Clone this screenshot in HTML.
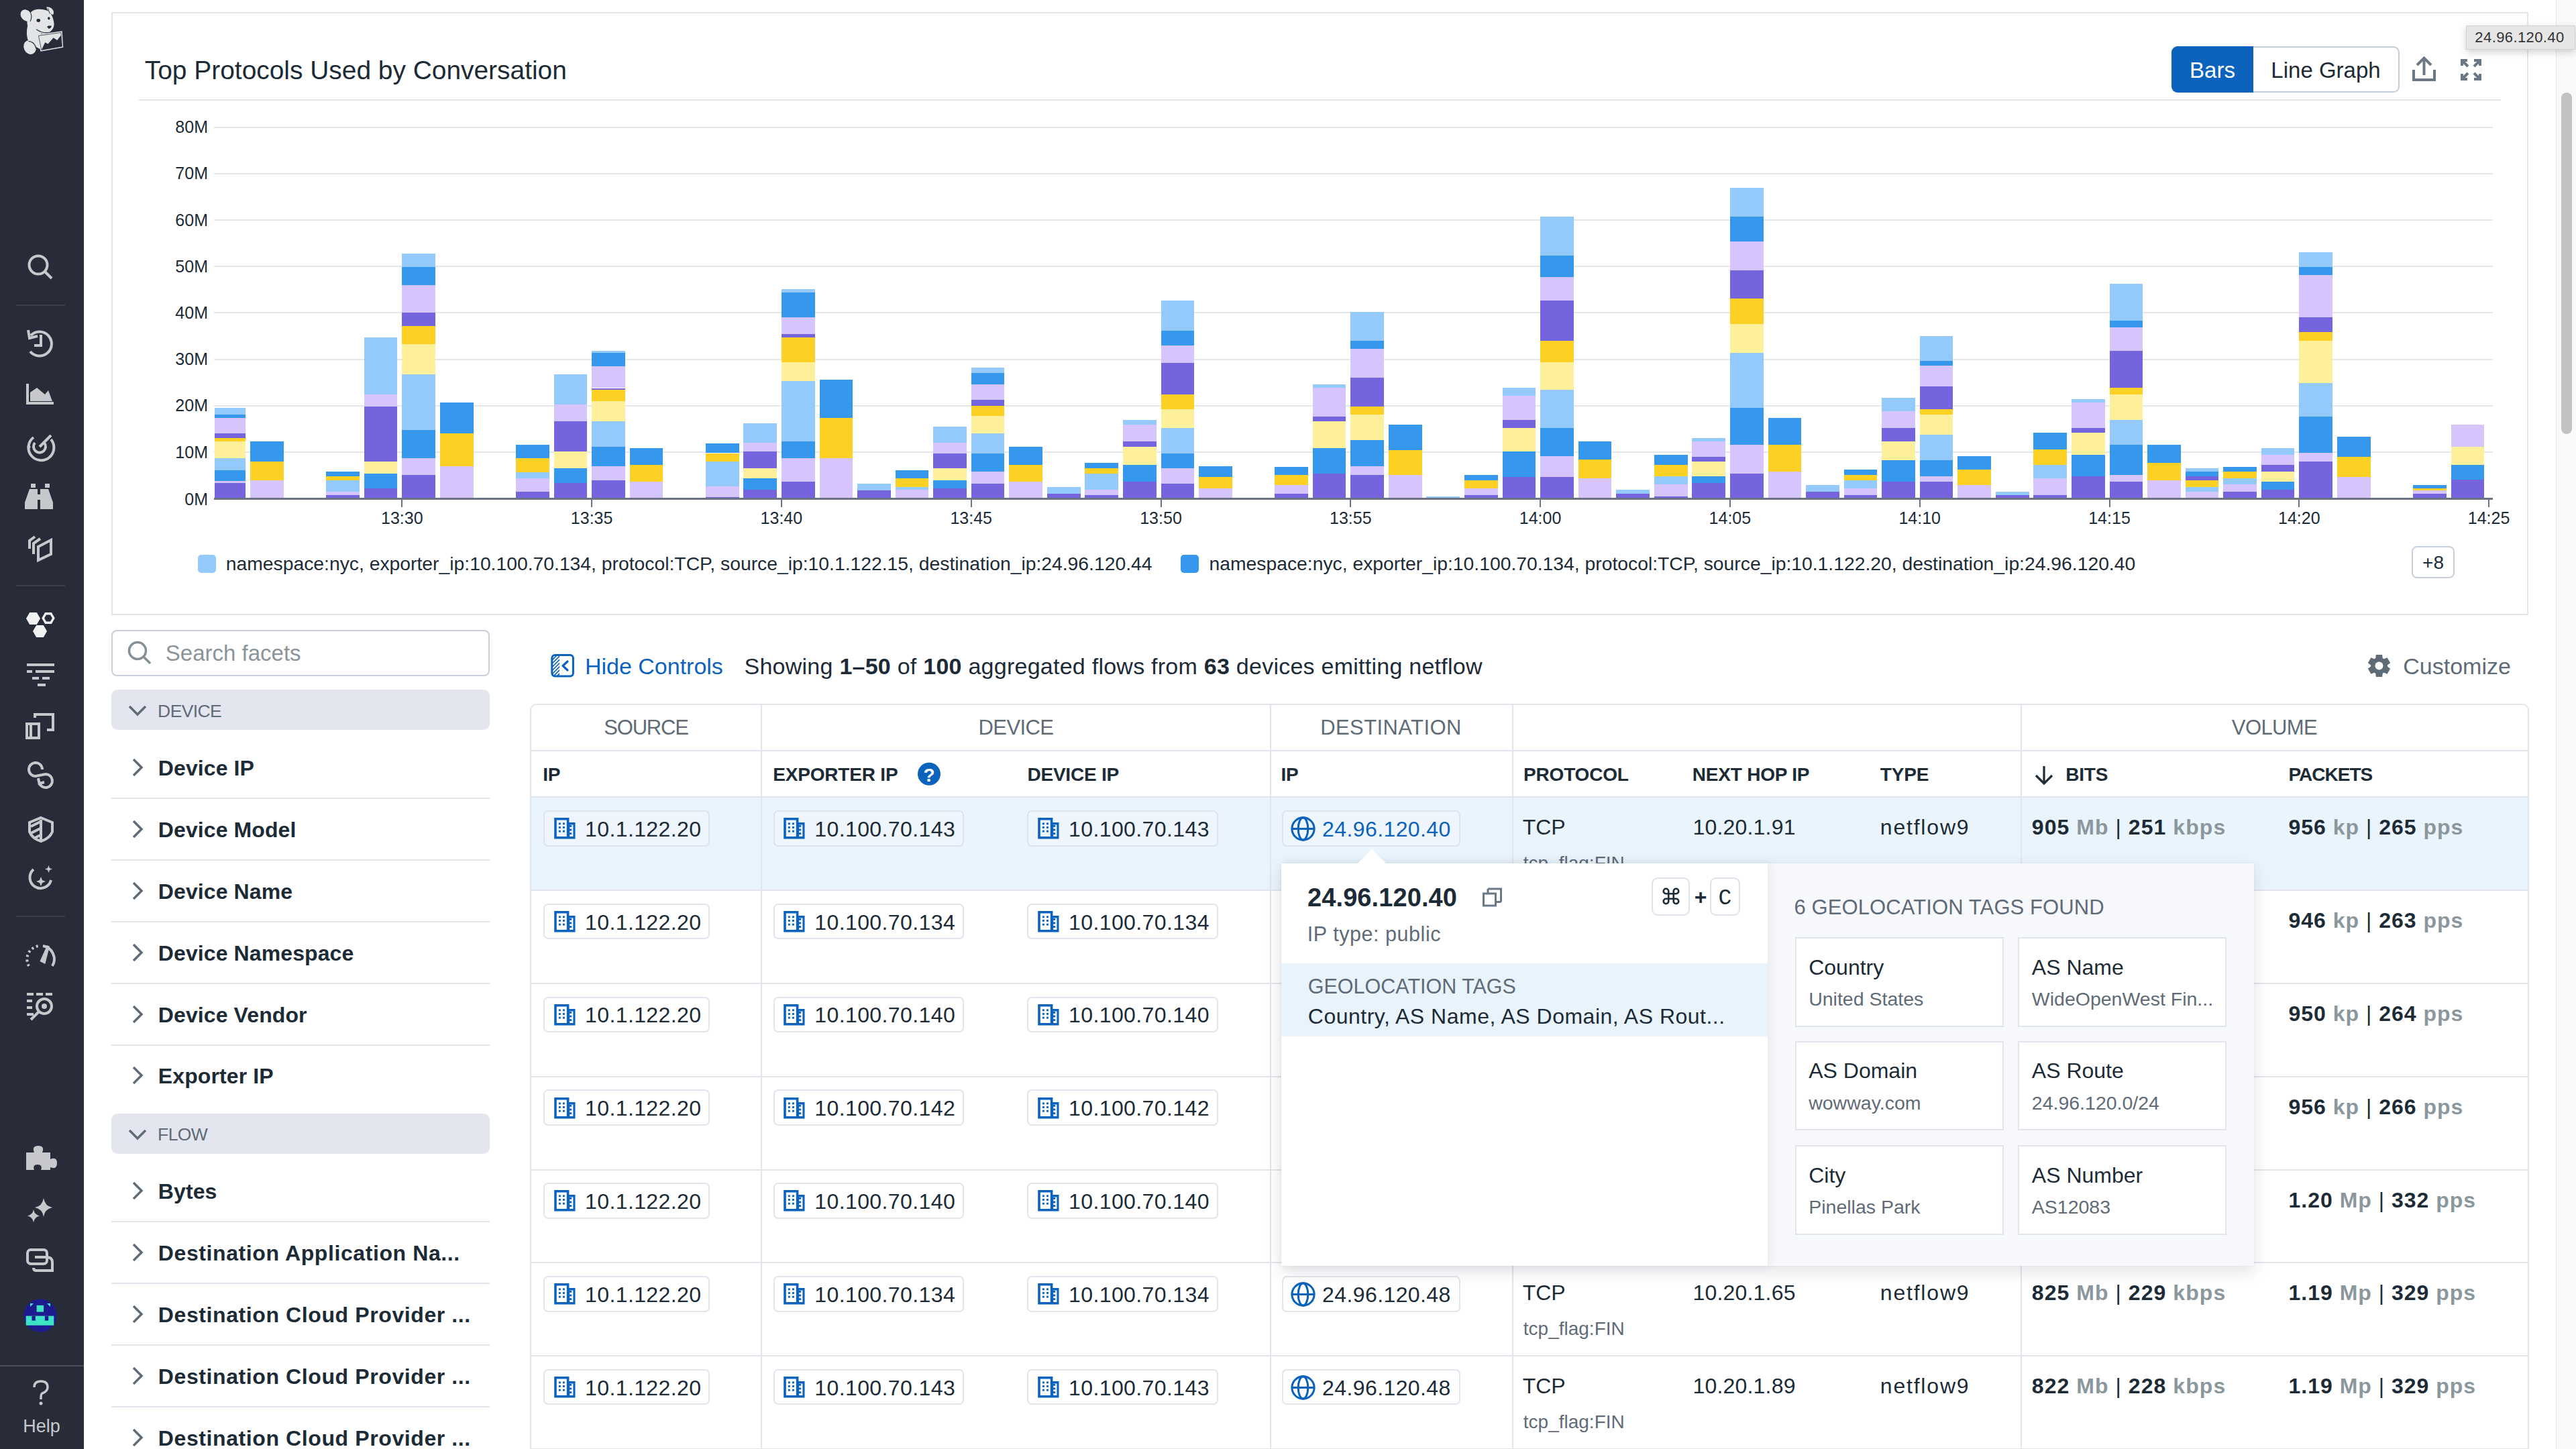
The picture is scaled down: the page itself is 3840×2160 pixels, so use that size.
<!DOCTYPE html><html><head><meta charset="utf-8"><style>
html,body{margin:0;padding:0;}
body{width:3840px;height:2160px;overflow:hidden;position:relative;background:#fff;font-family:"Liberation Sans",sans-serif;}
.t{position:absolute;white-space:nowrap;line-height:1;}
.r{position:absolute;box-sizing:border-box;}
svg{position:absolute;overflow:visible;}
</style></head><body>
<div class="r" style="left:0.0px;top:0.0px;width:125.0px;height:2160.0px;background:#272c38"></div>
<svg style="left:20px;top:0px" width="90" height="90" viewBox="0 0 1449 1449">
<g fill="#e3e4e6">
<path d="M330 560 C320 380 420 240 560 225 C660 210 760 230 830 260 C900 300 960 420 975 560 C985 680 900 790 760 805 C600 820 340 760 330 560 Z"/>
<ellipse cx="305" cy="370" rx="122" ry="152" transform="rotate(-40 305 370)"/>
<path d="M790 175 C850 150 930 190 960 260 C975 320 960 360 930 350 C880 320 820 250 790 175 Z"/>
<path d="M340 620 C300 800 320 980 420 1060 L640 1180 L660 800 Z"/>
<ellipse cx="395" cy="1135" rx="145" ry="172" transform="rotate(-25 395 1135)"/>
<polygon points="575,830 1170,745 1195,1140 650,1235"/>
</g>
<g fill="none" stroke="#272c38" stroke-width="18">
<path d="M385 250 C435 330 445 430 405 510"/>
<path d="M830 195 L872 330" stroke-width="14"/>
<path d="M550 705 C640 770 740 800 850 780"/>
<path d="M360 990 C450 990 530 1060 545 1170"/>
<polygon points="603,858 1143,780 1166,1113 673,1200" stroke-width="12"/>
</g>
<g fill="#272c38">
<ellipse cx="600" cy="490" rx="46" ry="40"/>
<ellipse cx="850" cy="440" rx="28" ry="33"/>
<path d="M805 640 Q860 605 918 625 Q895 690 850 692 Z"/>
<polygon points="673,1200 760,1020 830,1055 960,905 1050,965 1140,850 1166,1113"/>
</g>
</svg>
<div class="r" style="left:24.0px;top:454.0px;width:73.0px;height:2.0px;background:#3b404c"></div>
<div class="r" style="left:24.0px;top:872.0px;width:73.0px;height:2.0px;background:#3b404c"></div>
<div class="r" style="left:24.0px;top:1365.0px;width:73.0px;height:2.0px;background:#3b404c"></div>
<div class="r" style="left:0.0px;top:2035.0px;width:125.0px;height:2.0px;background:#4a4f5a"></div>
<svg style="left:0;top:0" width="125" height="2160" viewBox="0 0 125 2160" fill="none" stroke="#c6c8cc" stroke-width="4" stroke-linecap="butt">
<circle cx="57" cy="395" r="13.5"/><line x1="66.5" y1="404.5" x2="77" y2="415"/>
<path d="M46 500 A18 18 0 1 1 45 524"/><path d="M42 492 L44 504 L56 501" /><path d="M61 499 V515 H51"/>
<path d="M41 572 V601 H80" /><path d="M45 598 V585 L55 578 L67 588 L72 582 L78 598 Z" fill="#c6c8cc" stroke="none"/>
<path d="M50 652 A19 19 0 1 0 76 655"/><path d="M52 660 A9 9 0 1 0 66 660"/><line x1="59" y1="666" x2="76" y2="649"/><circle cx="43" cy="666" r="2.5" fill="#c6c8cc" stroke="none"/>
<path d="M46 721 h7 v6 h-7z M67 721 h7 v6 h-7z" fill="#c6c8cc" stroke="none"/>
<path d="M44 729 h12 v8 h4 v-8 h12 l7 20 v10 h-19 v-14 h-4 v14 h-19 v-10z" fill="#c6c8cc" stroke="none"/>
<path d="M44 818 V806 L52 800"/><path d="M50 826 V810 L60 803"/><path d="M57 835 V815 L76 805 V826 Z"/>
<path d="M60.0 922.0 L54.8 931.1 L44.2 931.1 L39.0 922.0 L44.2 912.9 L54.8 912.9Z M70.0 941.0 L64.8 950.1 L54.2 950.1 L49.0 941.0 L54.2 931.9 L64.8 931.9Z" fill="#f2f2f3" stroke="none"/>
<path d="M79.8 921.5 L75.9 928.3 L68.1 928.3 L64.2 921.5 L68.1 914.7 L75.9 914.7Z" stroke="#f2f2f3" stroke-width="3.4"/>
<path d="M40 991 H81 M40 1001 H48 M53 1001 H81 M48 1011 H58 M63 1011 H74 M56 1021 H68" />
<path d="M56 1065 H79 V1088 H70 M50 1075 V1075 M40 1079 H58 V1100 H40 Z M46 1079 V1100" />
<path d="M52 1070 V1065 H56"/>
<path d="M63 1147 A10 10 0 1 0 53 1157 L68 1154 A10 10 0 1 1 58.6 1167.4"/><path d="M57 1160 L58.6 1168 L66 1166"/>
<path d="M61 1219 L78 1226 V1240 Q74 1250 61 1254 Q48 1250 44 1240 V1226 Z"/><path d="M61 1222 V1252 M46 1232 L60 1225 M46 1242 L60 1235 M50 1250 L60 1245"/>
<path d="M50 1296 A16 16 0 1 0 76 1312"/><path d="M59 1312 l2 -5 l2 5 l5 2 l-5 2 l-2 5 l-2 -5 l-5 -2z M71 1294 l1.5 -4 l1.5 4 l4 1.5 l-4 1.5 l-1.5 4 l-1.5 -4 l-4 -1.5z" fill="#c6c8cc" stroke="none"/>
<path d="M43 1440 A20 20 0 0 1 60 1410" stroke-dasharray="3 4"/><path d="M64 1410 A20 20 0 0 1 78 1440"/><path d="M62 1432 L72 1410 L66 1434 Z" fill="#c6c8cc"/>
<path d="M40 1482 h10 M54 1482 h10 M68 1482 h10 M40 1492 h8 M40 1502 h8 M40 1512 h10" />
<circle cx="66" cy="1500" r="11"/><line x1="58" y1="1508" x2="46" y2="1520"/><circle cx="66" cy="1500" r="4" fill="#c6c8cc" stroke="none"/>
<path d="M39 1718 h12 q-4 -10 6 -10 q10 0 6 10 h12 v10 q10 -4 10 6 q0 10 -10 6 v4 h-14 q3 -8 -5 -8 q-8 0 -5 8 h-12 z" fill="#c6c8cc" stroke="none"/>
<path d="M65 1786 q2 12 13 14 q-11 2 -13 14 q-2 -12 -13 -14 q11 -2 13 -14z M50 1803 q1.5 8 9 9.5 q-7.5 1.5 -9 9.5 q-1.5 -8 -9 -9.5 q7.5 -1.5 9 -9.5z" fill="#c6c8cc" stroke="none"/>
<rect x="41" y="1863" width="29" height="21" rx="5"/><path d="M52 1874 h18 q8 0 8 8 v12 h-24 q-4 0 -4 -4"/>
<path d="M51 2068 q0 -9 10 -9 q10 0 10 9 q0 6 -8 9 q-2 1 -2 6 v3" stroke-width="3.5"/><circle cx="61" cy="2092" r="2.5" fill="#c6c8cc" stroke="none"/>
</svg>
<svg style="left:35px;top:1936px" width="50" height="50" viewBox="0 0 50 50">
<circle cx="25" cy="25" r="24.6" fill="#1e1b8e"/>
<g fill="#3ee3c6"><rect x="19.6" y="9.8" width="10.5" height="9.8"/><rect x="3.7" y="25.6" width="41.6" height="14.1"/>
<path d="M10 7 h5 l-5 5z M40 7 h-5 l5 5z"/></g>
<g fill="#1e1b8e"><rect x="12.5" y="25.6" width="5.3" height="7"/><rect x="31.9" y="25.6" width="5.3" height="7"/></g>
</svg>
<div class="t" style="left:-938.0px;width:2000px;text-align:center;top:2113.1px;font-size:27px;color:#c6c8cc;font-weight:400;">Help</div>
<div class="r" style="left:166.0px;top:18.0px;width:3603.0px;height:899.0px;border:2px solid #e2e5ec;background:#fff"></div>
<div class="t" style="left:215.8px;top:85.6px;font-size:38.9px;color:#1c2b36;font-weight:400;">Top Protocols Used by Conversation</div>
<div class="r" style="left:207.0px;top:148.0px;width:3521.0px;height:2.0px;background:#e2e5ec"></div>
<div class="r" style="left:3237px;top:69px;width:340px;height:69px;border:2px solid #c5ccda;border-radius:9px;background:#fff"></div>
<div class="r" style="left:3237.0px;top:69.0px;width:122.0px;height:69.0px;background:#0b63be;border-radius:9px 0 0 9px"></div>
<div class="t" style="left:2298.0px;width:2000px;text-align:center;top:87.9px;font-size:33px;color:#fff;font-weight:400;">Bars</div>
<div class="t" style="left:2467.0px;width:2000px;text-align:center;top:87.9px;font-size:33px;color:#1c2b36;font-weight:400;">Line Graph</div>
<svg style="left:3590px;top:80px" width="120" height="50" viewBox="3590 80 120 50" fill="none" stroke="#6a7784" stroke-width="4">
<path d="M3598 104 V119 H3629 V104"/><path d="M3613.5 112 V88"/><path d="M3603 97 L3613.5 86.5 L3624 97"/>
<path d="M3670 98 V90 H3678 M3670 90 L3679 99"/><path d="M3688 90 H3697 V98 M3697 90 L3688 99"/>
<path d="M3670 110 V118 H3678 M3670 118 L3679 109"/><path d="M3688 118 H3697 V110 M3697 118 L3688 109"/>
</svg>
<div class="r" style="left:319.0px;top:188.5px;width:3397.0px;height:2.0px;background:#e4e6eb"></div>
<div class="t" style="left:-1690.0px;width:2000px;text-align:right;top:177.1px;font-size:25px;color:#1c2b36;font-weight:400;">80M</div>
<div class="r" style="left:319.0px;top:257.7px;width:3397.0px;height:2.0px;background:#e4e6eb"></div>
<div class="t" style="left:-1690.0px;width:2000px;text-align:right;top:246.3px;font-size:25px;color:#1c2b36;font-weight:400;">70M</div>
<div class="r" style="left:319.0px;top:326.9px;width:3397.0px;height:2.0px;background:#e4e6eb"></div>
<div class="t" style="left:-1690.0px;width:2000px;text-align:right;top:315.5px;font-size:25px;color:#1c2b36;font-weight:400;">60M</div>
<div class="r" style="left:319.0px;top:396.1px;width:3397.0px;height:2.0px;background:#e4e6eb"></div>
<div class="t" style="left:-1690.0px;width:2000px;text-align:right;top:384.7px;font-size:25px;color:#1c2b36;font-weight:400;">50M</div>
<div class="r" style="left:319.0px;top:465.3px;width:3397.0px;height:2.0px;background:#e4e6eb"></div>
<div class="t" style="left:-1690.0px;width:2000px;text-align:right;top:453.9px;font-size:25px;color:#1c2b36;font-weight:400;">40M</div>
<div class="r" style="left:319.0px;top:534.5px;width:3397.0px;height:2.0px;background:#e4e6eb"></div>
<div class="t" style="left:-1690.0px;width:2000px;text-align:right;top:523.1px;font-size:25px;color:#1c2b36;font-weight:400;">30M</div>
<div class="r" style="left:319.0px;top:603.7px;width:3397.0px;height:2.0px;background:#e4e6eb"></div>
<div class="t" style="left:-1690.0px;width:2000px;text-align:right;top:592.3px;font-size:25px;color:#1c2b36;font-weight:400;">20M</div>
<div class="r" style="left:319.0px;top:672.9px;width:3397.0px;height:2.0px;background:#e4e6eb"></div>
<div class="t" style="left:-1690.0px;width:2000px;text-align:right;top:661.5px;font-size:25px;color:#1c2b36;font-weight:400;">10M</div>
<div class="t" style="left:-1690.0px;width:2000px;text-align:right;top:731.5px;font-size:25px;color:#1c2b36;font-weight:400;">0M</div>
<svg style="left:0;top:0" width="3840" height="800" viewBox="0 0 3840 800" shape-rendering="crispEdges"><rect x="319.5" y="720.1" width="46.7" height="21.9" fill="#7464dd"/><rect x="319.5" y="717.4" width="46.7" height="2.7" fill="#d6c5fc"/><rect x="319.5" y="700.6" width="46.7" height="16.8" fill="#3598ec"/><rect x="319.5" y="683.4" width="46.7" height="17.2" fill="#94c9fb"/><rect x="319.5" y="657.8" width="46.7" height="25.6" fill="#feef9b"/><rect x="319.5" y="652.9" width="46.7" height="4.9" fill="#fdd024"/><rect x="319.5" y="645.9" width="46.7" height="7.1" fill="#7464dd"/><rect x="319.5" y="622.5" width="46.7" height="23.4" fill="#d6c5fc"/><rect x="319.5" y="617.6" width="46.7" height="4.9" fill="#3598ec"/><rect x="319.5" y="607.9" width="46.7" height="9.7" fill="#94c9fb"/><rect x="373.1" y="715.7" width="49.7" height="26.3" fill="#d6c5fc"/><rect x="373.1" y="687.8" width="49.7" height="27.8" fill="#fdd024"/><rect x="373.1" y="657.8" width="49.7" height="30.0" fill="#3598ec"/><rect x="486.2" y="737.7" width="49.7" height="4.3" fill="#7464dd"/><rect x="486.2" y="732.9" width="49.7" height="4.9" fill="#d6c5fc"/><rect x="486.2" y="715.7" width="49.7" height="17.2" fill="#94c9fb"/><rect x="486.2" y="709.9" width="49.7" height="5.7" fill="#fdd024"/><rect x="486.2" y="702.8" width="49.7" height="7.1" fill="#3598ec"/><rect x="542.7" y="727.6" width="49.7" height="14.4" fill="#7464dd"/><rect x="542.7" y="705.9" width="49.7" height="21.6" fill="#3598ec"/><rect x="542.7" y="687.8" width="49.7" height="18.1" fill="#feef9b"/><rect x="542.7" y="606.1" width="49.7" height="81.7" fill="#7464dd"/><rect x="542.7" y="587.6" width="49.7" height="18.6" fill="#d6c5fc"/><rect x="542.7" y="502.8" width="49.7" height="84.8" fill="#94c9fb"/><rect x="599.3" y="707.7" width="49.7" height="34.3" fill="#7464dd"/><rect x="599.3" y="683.0" width="49.7" height="24.7" fill="#d6c5fc"/><rect x="599.3" y="640.6" width="49.7" height="42.4" fill="#3598ec"/><rect x="599.3" y="557.5" width="49.7" height="83.0" fill="#94c9fb"/><rect x="599.3" y="512.9" width="49.7" height="44.6" fill="#feef9b"/><rect x="599.3" y="485.5" width="49.7" height="27.4" fill="#fdd024"/><rect x="599.3" y="465.7" width="49.7" height="19.9" fill="#7464dd"/><rect x="599.3" y="425.0" width="49.7" height="40.6" fill="#d6c5fc"/><rect x="599.3" y="397.6" width="49.7" height="27.4" fill="#3598ec"/><rect x="599.3" y="377.8" width="49.7" height="19.9" fill="#94c9fb"/><rect x="655.9" y="695.3" width="49.7" height="46.7" fill="#d6c5fc"/><rect x="655.9" y="645.4" width="49.7" height="49.9" fill="#fdd024"/><rect x="655.9" y="600.4" width="49.7" height="45.1" fill="#3598ec"/><rect x="769.0" y="733.2" width="49.7" height="8.8" fill="#7464dd"/><rect x="769.0" y="713.0" width="49.7" height="20.2" fill="#d6c5fc"/><rect x="769.0" y="703.5" width="49.7" height="9.4" fill="#94c9fb"/><rect x="769.0" y="683.1" width="49.7" height="20.5" fill="#fdd024"/><rect x="769.0" y="663.2" width="49.7" height="19.9" fill="#3598ec"/><rect x="825.5" y="720.3" width="49.7" height="21.7" fill="#7464dd"/><rect x="825.5" y="698.0" width="49.7" height="22.3" fill="#3598ec"/><rect x="825.5" y="673.1" width="49.7" height="24.9" fill="#feef9b"/><rect x="825.5" y="628.0" width="49.7" height="45.1" fill="#7464dd"/><rect x="825.5" y="603.1" width="49.7" height="24.9" fill="#d6c5fc"/><rect x="825.5" y="558.3" width="49.7" height="44.8" fill="#94c9fb"/><rect x="882.1" y="715.9" width="49.7" height="26.1" fill="#7464dd"/><rect x="882.1" y="695.2" width="49.7" height="20.7" fill="#d6c5fc"/><rect x="882.1" y="665.8" width="49.7" height="29.4" fill="#3598ec"/><rect x="882.1" y="628.0" width="49.7" height="37.8" fill="#94c9fb"/><rect x="882.1" y="598.1" width="49.7" height="29.9" fill="#feef9b"/><rect x="882.1" y="580.6" width="49.7" height="17.6" fill="#fdd024"/><rect x="882.1" y="578.5" width="49.7" height="2.1" fill="#7464dd"/><rect x="882.1" y="545.4" width="49.7" height="33.0" fill="#d6c5fc"/><rect x="882.1" y="525.8" width="49.7" height="19.7" fill="#3598ec"/><rect x="882.1" y="523.2" width="49.7" height="2.6" fill="#94c9fb"/><rect x="938.7" y="718.2" width="49.7" height="23.8" fill="#d6c5fc"/><rect x="938.7" y="692.8" width="49.7" height="25.4" fill="#fdd024"/><rect x="938.7" y="667.9" width="49.7" height="24.9" fill="#3598ec"/><rect x="1051.8" y="741.3" width="49.7" height="0.7" fill="#7464dd"/><rect x="1051.8" y="725.0" width="49.7" height="16.3" fill="#d6c5fc"/><rect x="1051.8" y="688.3" width="49.7" height="36.7" fill="#94c9fb"/><rect x="1051.8" y="675.5" width="49.7" height="12.8" fill="#fdd024"/><rect x="1051.8" y="660.5" width="49.7" height="14.9" fill="#3598ec"/><rect x="1108.3" y="730.4" width="49.7" height="11.6" fill="#7464dd"/><rect x="1108.3" y="713.3" width="49.7" height="17.1" fill="#3598ec"/><rect x="1108.3" y="697.8" width="49.7" height="15.5" fill="#feef9b"/><rect x="1108.3" y="673.0" width="49.7" height="24.8" fill="#7464dd"/><rect x="1108.3" y="659.8" width="49.7" height="13.2" fill="#d6c5fc"/><rect x="1108.3" y="630.8" width="49.7" height="29.0" fill="#94c9fb"/><rect x="1164.9" y="718.0" width="49.7" height="24.0" fill="#7464dd"/><rect x="1164.9" y="682.9" width="49.7" height="35.1" fill="#d6c5fc"/><rect x="1164.9" y="658.1" width="49.7" height="24.8" fill="#3598ec"/><rect x="1164.9" y="568.1" width="49.7" height="90.0" fill="#94c9fb"/><rect x="1164.9" y="540.0" width="49.7" height="28.2" fill="#feef9b"/><rect x="1164.9" y="503.0" width="49.7" height="37.0" fill="#fdd024"/><rect x="1164.9" y="498.0" width="49.7" height="5.0" fill="#7464dd"/><rect x="1164.9" y="472.9" width="49.7" height="25.1" fill="#d6c5fc"/><rect x="1164.9" y="436.2" width="49.7" height="36.7" fill="#3598ec"/><rect x="1164.9" y="430.7" width="49.7" height="5.5" fill="#94c9fb"/><rect x="1221.5" y="682.9" width="49.7" height="59.1" fill="#d6c5fc"/><rect x="1221.5" y="622.8" width="49.7" height="60.2" fill="#fdd024"/><rect x="1221.5" y="565.6" width="49.7" height="57.1" fill="#3598ec"/><rect x="1278.0" y="730.7" width="49.7" height="11.3" fill="#7464dd"/><rect x="1278.0" y="720.5" width="49.7" height="10.2" fill="#94c9fb"/><rect x="1334.6" y="729.9" width="49.7" height="12.1" fill="#d6c5fc"/><rect x="1334.6" y="726.0" width="49.7" height="3.9" fill="#94c9fb"/><rect x="1334.6" y="712.7" width="49.7" height="13.2" fill="#fdd024"/><rect x="1334.6" y="700.6" width="49.7" height="12.1" fill="#3598ec"/><rect x="1391.1" y="727.9" width="49.7" height="14.1" fill="#7464dd"/><rect x="1391.1" y="716.1" width="49.7" height="11.9" fill="#3598ec"/><rect x="1391.1" y="697.8" width="49.7" height="18.2" fill="#feef9b"/><rect x="1391.1" y="675.8" width="49.7" height="22.1" fill="#7464dd"/><rect x="1391.1" y="659.8" width="49.7" height="16.0" fill="#d6c5fc"/><rect x="1391.1" y="635.5" width="49.7" height="24.3" fill="#94c9fb"/><rect x="1447.7" y="720.8" width="49.7" height="21.2" fill="#7464dd"/><rect x="1447.7" y="702.8" width="49.7" height="17.9" fill="#d6c5fc"/><rect x="1447.7" y="675.8" width="49.7" height="27.0" fill="#3598ec"/><rect x="1447.7" y="646.0" width="49.7" height="29.8" fill="#94c9fb"/><rect x="1447.7" y="620.0" width="49.7" height="25.9" fill="#feef9b"/><rect x="1447.7" y="605.1" width="49.7" height="14.9" fill="#fdd024"/><rect x="1447.7" y="596.0" width="49.7" height="9.1" fill="#7464dd"/><rect x="1447.7" y="572.8" width="49.7" height="23.2" fill="#d6c5fc"/><rect x="1447.7" y="556.0" width="49.7" height="16.8" fill="#3598ec"/><rect x="1447.7" y="548.2" width="49.7" height="7.7" fill="#94c9fb"/><rect x="1504.3" y="718.3" width="49.7" height="23.7" fill="#d6c5fc"/><rect x="1504.3" y="692.9" width="49.7" height="25.4" fill="#fdd024"/><rect x="1504.3" y="665.5" width="49.7" height="27.3" fill="#3598ec"/><rect x="1560.8" y="735.9" width="49.7" height="6.1" fill="#7464dd"/><rect x="1560.8" y="725.7" width="49.7" height="10.2" fill="#94c9fb"/><rect x="1617.4" y="738.1" width="49.7" height="3.9" fill="#7464dd"/><rect x="1617.4" y="729.9" width="49.7" height="8.3" fill="#d6c5fc"/><rect x="1617.4" y="705.8" width="49.7" height="24.0" fill="#94c9fb"/><rect x="1617.4" y="697.8" width="49.7" height="8.0" fill="#fdd024"/><rect x="1617.4" y="690.4" width="49.7" height="7.5" fill="#3598ec"/><rect x="1673.9" y="718.3" width="49.7" height="23.7" fill="#7464dd"/><rect x="1673.9" y="693.1" width="49.7" height="25.1" fill="#3598ec"/><rect x="1673.9" y="665.5" width="49.7" height="27.6" fill="#feef9b"/><rect x="1673.9" y="658.1" width="49.7" height="7.5" fill="#7464dd"/><rect x="1673.9" y="633.3" width="49.7" height="24.8" fill="#d6c5fc"/><rect x="1673.9" y="625.5" width="49.7" height="7.7" fill="#94c9fb"/><rect x="1730.5" y="720.8" width="49.7" height="21.2" fill="#7464dd"/><rect x="1730.5" y="697.8" width="49.7" height="22.9" fill="#d6c5fc"/><rect x="1730.5" y="675.8" width="49.7" height="22.1" fill="#3598ec"/><rect x="1730.5" y="637.9" width="49.7" height="37.8" fill="#94c9fb"/><rect x="1730.5" y="610.1" width="49.7" height="27.9" fill="#feef9b"/><rect x="1730.5" y="588.0" width="49.7" height="22.1" fill="#fdd024"/><rect x="1730.5" y="541.1" width="49.7" height="46.9" fill="#7464dd"/><rect x="1730.5" y="515.4" width="49.7" height="25.7" fill="#d6c5fc"/><rect x="1730.5" y="493.0" width="49.7" height="22.4" fill="#3598ec"/><rect x="1730.5" y="448.0" width="49.7" height="45.0" fill="#94c9fb"/><rect x="1787.1" y="727.9" width="49.7" height="14.1" fill="#d6c5fc"/><rect x="1787.1" y="710.5" width="49.7" height="17.4" fill="#fdd024"/><rect x="1787.1" y="695.4" width="49.7" height="15.2" fill="#3598ec"/><rect x="1900.2" y="735.9" width="49.7" height="6.1" fill="#7464dd"/><rect x="1900.2" y="723.2" width="49.7" height="12.7" fill="#d6c5fc"/><rect x="1900.2" y="708.1" width="49.7" height="15.2" fill="#fdd024"/><rect x="1900.2" y="695.6" width="49.7" height="12.4" fill="#3598ec"/><rect x="1956.7" y="705.6" width="49.7" height="36.4" fill="#7464dd"/><rect x="1956.7" y="668.0" width="49.7" height="37.5" fill="#3598ec"/><rect x="1956.7" y="628.3" width="49.7" height="39.7" fill="#feef9b"/><rect x="1956.7" y="620.8" width="49.7" height="7.5" fill="#7464dd"/><rect x="1956.7" y="578.1" width="49.7" height="42.8" fill="#d6c5fc"/><rect x="1956.7" y="573.1" width="49.7" height="5.0" fill="#94c9fb"/><rect x="2013.3" y="708.1" width="49.7" height="33.9" fill="#7464dd"/><rect x="2013.3" y="695.1" width="49.7" height="13.0" fill="#d6c5fc"/><rect x="2013.3" y="655.9" width="49.7" height="39.2" fill="#3598ec"/><rect x="2013.3" y="618.1" width="49.7" height="37.8" fill="#feef9b"/><rect x="2013.3" y="605.7" width="49.7" height="12.4" fill="#fdd024"/><rect x="2013.3" y="563.1" width="49.7" height="42.5" fill="#7464dd"/><rect x="2013.3" y="520.4" width="49.7" height="42.8" fill="#d6c5fc"/><rect x="2013.3" y="507.9" width="49.7" height="12.4" fill="#3598ec"/><rect x="2013.3" y="465.4" width="49.7" height="42.5" fill="#94c9fb"/><rect x="2069.9" y="708.1" width="49.7" height="33.9" fill="#d6c5fc"/><rect x="2069.9" y="670.5" width="49.7" height="37.5" fill="#fdd024"/><rect x="2069.9" y="633.3" width="49.7" height="37.3" fill="#3598ec"/><rect x="2126.4" y="740.3" width="49.7" height="1.7" fill="#94c9fb"/><rect x="2183.0" y="738.1" width="49.7" height="3.9" fill="#7464dd"/><rect x="2183.0" y="727.9" width="49.7" height="10.2" fill="#d6c5fc"/><rect x="2183.0" y="715.5" width="49.7" height="12.4" fill="#fdd024"/><rect x="2183.0" y="708.1" width="49.7" height="7.5" fill="#3598ec"/><rect x="2239.5" y="710.5" width="49.7" height="31.5" fill="#7464dd"/><rect x="2239.5" y="673.0" width="49.7" height="37.5" fill="#3598ec"/><rect x="2239.5" y="637.9" width="49.7" height="35.1" fill="#feef9b"/><rect x="2239.5" y="625.8" width="49.7" height="12.1" fill="#7464dd"/><rect x="2239.5" y="589.9" width="49.7" height="35.9" fill="#d6c5fc"/><rect x="2239.5" y="578.1" width="49.7" height="11.9" fill="#94c9fb"/><rect x="2296.1" y="710.7" width="49.7" height="31.3" fill="#7464dd"/><rect x="2296.1" y="680.3" width="49.7" height="30.4" fill="#d6c5fc"/><rect x="2296.1" y="637.8" width="49.7" height="42.4" fill="#3598ec"/><rect x="2296.1" y="580.9" width="49.7" height="56.9" fill="#94c9fb"/><rect x="2296.1" y="540.2" width="49.7" height="40.7" fill="#feef9b"/><rect x="2296.1" y="507.8" width="49.7" height="32.4" fill="#fdd024"/><rect x="2296.1" y="448.1" width="49.7" height="59.7" fill="#7464dd"/><rect x="2296.1" y="412.9" width="49.7" height="35.2" fill="#d6c5fc"/><rect x="2296.1" y="380.8" width="49.7" height="32.1" fill="#3598ec"/><rect x="2296.1" y="323.1" width="49.7" height="57.6" fill="#94c9fb"/><rect x="2352.7" y="713.1" width="49.7" height="28.9" fill="#d6c5fc"/><rect x="2352.7" y="685.1" width="49.7" height="28.0" fill="#fdd024"/><rect x="2352.7" y="657.9" width="49.7" height="27.3" fill="#3598ec"/><rect x="2409.2" y="735.5" width="49.7" height="6.5" fill="#7464dd"/><rect x="2409.2" y="730.3" width="49.7" height="5.2" fill="#94c9fb"/><rect x="2465.8" y="740.3" width="49.7" height="1.7" fill="#7464dd"/><rect x="2465.8" y="722.4" width="49.7" height="17.9" fill="#d6c5fc"/><rect x="2465.8" y="710.3" width="49.7" height="12.1" fill="#94c9fb"/><rect x="2465.8" y="692.7" width="49.7" height="17.6" fill="#fdd024"/><rect x="2465.8" y="678.2" width="49.7" height="14.5" fill="#3598ec"/><rect x="2522.3" y="720.3" width="49.7" height="21.7" fill="#7464dd"/><rect x="2522.3" y="710.3" width="49.7" height="10.0" fill="#3598ec"/><rect x="2522.3" y="687.9" width="49.7" height="22.4" fill="#feef9b"/><rect x="2522.3" y="680.6" width="49.7" height="7.2" fill="#7464dd"/><rect x="2522.3" y="657.5" width="49.7" height="23.1" fill="#d6c5fc"/><rect x="2522.3" y="652.7" width="49.7" height="4.8" fill="#94c9fb"/><rect x="2578.9" y="705.8" width="49.7" height="36.2" fill="#7464dd"/><rect x="2578.9" y="662.7" width="49.7" height="43.1" fill="#d6c5fc"/><rect x="2578.9" y="607.8" width="49.7" height="54.9" fill="#3598ec"/><rect x="2578.9" y="525.7" width="49.7" height="82.1" fill="#94c9fb"/><rect x="2578.9" y="482.6" width="49.7" height="43.1" fill="#feef9b"/><rect x="2578.9" y="445.3" width="49.7" height="37.3" fill="#fdd024"/><rect x="2578.9" y="402.5" width="49.7" height="42.8" fill="#7464dd"/><rect x="2578.9" y="360.1" width="49.7" height="42.4" fill="#d6c5fc"/><rect x="2578.9" y="322.8" width="49.7" height="37.3" fill="#3598ec"/><rect x="2578.9" y="280.4" width="49.7" height="42.4" fill="#94c9fb"/><rect x="2635.5" y="703.4" width="49.7" height="38.6" fill="#d6c5fc"/><rect x="2635.5" y="662.7" width="49.7" height="40.7" fill="#fdd024"/><rect x="2635.5" y="623.0" width="49.7" height="39.7" fill="#3598ec"/><rect x="2692.0" y="732.7" width="49.7" height="9.3" fill="#7464dd"/><rect x="2692.0" y="723.1" width="49.7" height="9.7" fill="#94c9fb"/><rect x="2748.6" y="737.9" width="49.7" height="4.1" fill="#7464dd"/><rect x="2748.6" y="727.6" width="49.7" height="10.4" fill="#d6c5fc"/><rect x="2748.6" y="715.5" width="49.7" height="12.1" fill="#94c9fb"/><rect x="2748.6" y="707.9" width="49.7" height="7.6" fill="#fdd024"/><rect x="2748.6" y="700.3" width="49.7" height="7.6" fill="#3598ec"/><rect x="2805.1" y="717.9" width="49.7" height="24.1" fill="#7464dd"/><rect x="2805.1" y="685.8" width="49.7" height="32.1" fill="#3598ec"/><rect x="2805.1" y="657.9" width="49.7" height="28.0" fill="#feef9b"/><rect x="2805.1" y="637.8" width="49.7" height="20.0" fill="#7464dd"/><rect x="2805.1" y="612.7" width="49.7" height="25.2" fill="#d6c5fc"/><rect x="2805.1" y="593.0" width="49.7" height="19.7" fill="#94c9fb"/><rect x="2861.7" y="717.9" width="49.7" height="24.1" fill="#7464dd"/><rect x="2861.7" y="710.3" width="49.7" height="7.6" fill="#d6c5fc"/><rect x="2861.7" y="685.8" width="49.7" height="24.5" fill="#3598ec"/><rect x="2861.7" y="648.2" width="49.7" height="37.6" fill="#94c9fb"/><rect x="2861.7" y="617.8" width="49.7" height="30.4" fill="#feef9b"/><rect x="2861.7" y="610.2" width="49.7" height="7.6" fill="#fdd024"/><rect x="2861.7" y="575.7" width="49.7" height="34.5" fill="#7464dd"/><rect x="2861.7" y="545.4" width="49.7" height="30.4" fill="#d6c5fc"/><rect x="2861.7" y="537.8" width="49.7" height="7.6" fill="#3598ec"/><rect x="2861.7" y="500.5" width="49.7" height="37.3" fill="#94c9fb"/><rect x="2918.3" y="723.1" width="49.7" height="18.9" fill="#d6c5fc"/><rect x="2918.3" y="700.3" width="49.7" height="22.8" fill="#fdd024"/><rect x="2918.3" y="680.3" width="49.7" height="20.0" fill="#3598ec"/><rect x="2974.8" y="737.9" width="49.7" height="4.1" fill="#7464dd"/><rect x="2974.8" y="732.7" width="49.7" height="5.2" fill="#94c9fb"/><rect x="3031.4" y="737.9" width="49.7" height="4.1" fill="#7464dd"/><rect x="3031.4" y="712.7" width="49.7" height="25.2" fill="#d6c5fc"/><rect x="3031.4" y="692.7" width="49.7" height="20.0" fill="#94c9fb"/><rect x="3031.4" y="669.9" width="49.7" height="22.8" fill="#fdd024"/><rect x="3031.4" y="645.4" width="49.7" height="24.5" fill="#3598ec"/><rect x="3087.9" y="710.3" width="49.7" height="31.7" fill="#7464dd"/><rect x="3087.9" y="677.5" width="49.7" height="32.8" fill="#3598ec"/><rect x="3087.9" y="645.4" width="49.7" height="32.1" fill="#feef9b"/><rect x="3087.9" y="637.8" width="49.7" height="7.6" fill="#7464dd"/><rect x="3087.9" y="599.9" width="49.7" height="38.0" fill="#d6c5fc"/><rect x="3087.9" y="595.4" width="49.7" height="4.5" fill="#94c9fb"/><rect x="3144.5" y="717.9" width="49.7" height="24.1" fill="#7464dd"/><rect x="3144.5" y="707.9" width="49.7" height="10.0" fill="#d6c5fc"/><rect x="3144.5" y="662.7" width="49.7" height="45.2" fill="#3598ec"/><rect x="3144.5" y="625.8" width="49.7" height="36.9" fill="#94c9fb"/><rect x="3144.5" y="587.8" width="49.7" height="38.0" fill="#feef9b"/><rect x="3144.5" y="577.8" width="49.7" height="10.0" fill="#fdd024"/><rect x="3144.5" y="522.9" width="49.7" height="54.9" fill="#7464dd"/><rect x="3144.5" y="487.7" width="49.7" height="35.2" fill="#d6c5fc"/><rect x="3144.5" y="478.1" width="49.7" height="9.7" fill="#3598ec"/><rect x="3144.5" y="422.9" width="49.7" height="55.2" fill="#94c9fb"/><rect x="3201.1" y="715.5" width="49.7" height="26.5" fill="#d6c5fc"/><rect x="3201.1" y="690.3" width="49.7" height="25.2" fill="#fdd024"/><rect x="3201.1" y="662.7" width="49.7" height="27.6" fill="#3598ec"/><rect x="3257.6" y="732.7" width="49.7" height="9.3" fill="#d6c5fc"/><rect x="3257.6" y="725.8" width="49.7" height="6.9" fill="#94c9fb"/><rect x="3257.6" y="715.5" width="49.7" height="10.4" fill="#fdd024"/><rect x="3257.6" y="710.3" width="49.7" height="5.2" fill="#7464dd"/><rect x="3257.6" y="702.7" width="49.7" height="7.6" fill="#3598ec"/><rect x="3257.6" y="697.9" width="49.7" height="4.8" fill="#94c9fb"/><rect x="3314.2" y="732.7" width="49.7" height="9.3" fill="#7464dd"/><rect x="3314.2" y="722.4" width="49.7" height="10.4" fill="#d6c5fc"/><rect x="3314.2" y="712.7" width="49.7" height="9.7" fill="#94c9fb"/><rect x="3314.2" y="702.7" width="49.7" height="10.0" fill="#fdd024"/><rect x="3314.2" y="695.5" width="49.7" height="7.2" fill="#3598ec"/><rect x="3370.7" y="730.3" width="49.7" height="11.7" fill="#7464dd"/><rect x="3370.7" y="717.9" width="49.7" height="12.4" fill="#3598ec"/><rect x="3370.7" y="702.7" width="49.7" height="15.2" fill="#feef9b"/><rect x="3370.7" y="692.7" width="49.7" height="10.0" fill="#7464dd"/><rect x="3370.7" y="677.5" width="49.7" height="15.2" fill="#d6c5fc"/><rect x="3370.7" y="667.9" width="49.7" height="9.7" fill="#94c9fb"/><rect x="3427.3" y="687.9" width="49.7" height="54.1" fill="#7464dd"/><rect x="3427.3" y="675.1" width="49.7" height="12.8" fill="#d6c5fc"/><rect x="3427.3" y="620.9" width="49.7" height="54.2" fill="#3598ec"/><rect x="3427.3" y="570.6" width="49.7" height="50.4" fill="#94c9fb"/><rect x="3427.3" y="507.8" width="49.7" height="62.8" fill="#feef9b"/><rect x="3427.3" y="495.3" width="49.7" height="12.4" fill="#fdd024"/><rect x="3427.3" y="472.6" width="49.7" height="22.8" fill="#7464dd"/><rect x="3427.3" y="410.1" width="49.7" height="62.5" fill="#d6c5fc"/><rect x="3427.3" y="397.7" width="49.7" height="12.4" fill="#3598ec"/><rect x="3427.3" y="375.6" width="49.7" height="22.1" fill="#94c9fb"/><rect x="3483.9" y="710.6" width="49.7" height="31.4" fill="#d6c5fc"/><rect x="3483.9" y="680.6" width="49.7" height="30.0" fill="#fdd024"/><rect x="3483.9" y="650.5" width="49.7" height="30.0" fill="#3598ec"/><rect x="3597.0" y="735.9" width="49.7" height="6.1" fill="#7464dd"/><rect x="3597.0" y="731.2" width="49.7" height="4.7" fill="#d6c5fc"/><rect x="3597.0" y="727.9" width="49.7" height="3.3" fill="#fdd024"/><rect x="3597.0" y="723.3" width="49.7" height="4.7" fill="#3598ec"/><rect x="3653.5" y="715.3" width="49.7" height="26.7" fill="#7464dd"/><rect x="3653.5" y="693.0" width="49.7" height="22.3" fill="#3598ec"/><rect x="3653.5" y="665.5" width="49.7" height="27.5" fill="#feef9b"/><rect x="3653.5" y="633.2" width="49.7" height="32.4" fill="#d6c5fc"/><rect x="319" y="742" width="3397" height="2.6" fill="#6b7484"/><rect x="598.3" y="744" width="2" height="11.5" fill="#6b7484"/><rect x="881.1" y="744" width="2" height="11.5" fill="#6b7484"/><rect x="1163.9" y="744" width="2" height="11.5" fill="#6b7484"/><rect x="1446.7" y="744" width="2" height="11.5" fill="#6b7484"/><rect x="1729.5" y="744" width="2" height="11.5" fill="#6b7484"/><rect x="2012.3" y="744" width="2" height="11.5" fill="#6b7484"/><rect x="2295.1" y="744" width="2" height="11.5" fill="#6b7484"/><rect x="2577.9" y="744" width="2" height="11.5" fill="#6b7484"/><rect x="2860.7" y="744" width="2" height="11.5" fill="#6b7484"/><rect x="3143.5" y="744" width="2" height="11.5" fill="#6b7484"/><rect x="3426.3" y="744" width="2" height="11.5" fill="#6b7484"/><rect x="3709.1" y="744" width="2" height="11.5" fill="#6b7484"/></svg>
<div class="t" style="left:-400.7px;width:2000px;text-align:center;top:759.5px;font-size:25px;color:#1c2b36;font-weight:400;">13:30</div>
<div class="t" style="left:-117.9px;width:2000px;text-align:center;top:759.5px;font-size:25px;color:#1c2b36;font-weight:400;">13:35</div>
<div class="t" style="left:164.9px;width:2000px;text-align:center;top:759.5px;font-size:25px;color:#1c2b36;font-weight:400;">13:40</div>
<div class="t" style="left:447.7px;width:2000px;text-align:center;top:759.5px;font-size:25px;color:#1c2b36;font-weight:400;">13:45</div>
<div class="t" style="left:730.5px;width:2000px;text-align:center;top:759.5px;font-size:25px;color:#1c2b36;font-weight:400;">13:50</div>
<div class="t" style="left:1013.3px;width:2000px;text-align:center;top:759.5px;font-size:25px;color:#1c2b36;font-weight:400;">13:55</div>
<div class="t" style="left:1296.1px;width:2000px;text-align:center;top:759.5px;font-size:25px;color:#1c2b36;font-weight:400;">14:00</div>
<div class="t" style="left:1578.9px;width:2000px;text-align:center;top:759.5px;font-size:25px;color:#1c2b36;font-weight:400;">14:05</div>
<div class="t" style="left:1861.7px;width:2000px;text-align:center;top:759.5px;font-size:25px;color:#1c2b36;font-weight:400;">14:10</div>
<div class="t" style="left:2144.5px;width:2000px;text-align:center;top:759.5px;font-size:25px;color:#1c2b36;font-weight:400;">14:15</div>
<div class="t" style="left:2427.3px;width:2000px;text-align:center;top:759.5px;font-size:25px;color:#1c2b36;font-weight:400;">14:20</div>
<div class="t" style="left:2710.1px;width:2000px;text-align:center;top:759.5px;font-size:25px;color:#1c2b36;font-weight:400;">14:25</div>
<div class="r" style="left:295.0px;top:827.0px;width:27.0px;height:27.0px;background:#94c9fb;border-radius:5px"></div>
<div class="t" style="left:336.8px;top:826.0px;font-size:28.3px;color:#1c2b36;font-weight:400;">namespace:nyc, exporter_ip:10.100.70.134, protocol:TCP, source_ip:10.1.122.15, destination_ip:24.96.120.44</div>
<div class="r" style="left:1760.0px;top:827.0px;width:27.0px;height:27.0px;background:#3598ec;border-radius:5px"></div>
<div class="t" style="left:1802.5px;top:826.0px;font-size:28.3px;color:#1c2b36;font-weight:400;">namespace:nyc, exporter_ip:10.100.70.134, protocol:TCP, source_ip:10.1.122.20, destination_ip:24.96.120.40</div>
<div class="r" style="left:3595.0px;top:813.5px;width:64.0px;height:48.0px;border:2px solid #c8cfdc;border-radius:8px;background:#fff"></div>
<div class="t" style="left:2627.0px;width:2000px;text-align:center;top:825.3px;font-size:28px;color:#1c2b36;font-weight:400;">+8</div>
<div class="r" style="left:3810.0px;top:0.0px;width:30.0px;height:2160.0px;background:#fafafa;border-left:1px solid #e6e6e6"></div>
<div class="r" style="left:3818.0px;top:138.0px;width:16.0px;height:509.0px;background:#c2c2c2;border-radius:8px"></div>
<div class="r" style="left:3675.5px;top:37.5px;width:163.0px;height:36.5px;background:#e6e6e6;border:1px solid #d2d2d2;box-shadow:0 4px 12px rgba(0,0,0,0.18)"></div>
<div class="t" style="left:2756.0px;width:2000px;text-align:center;top:44.6px;font-size:22px;color:#333;font-weight:400;letter-spacing:0.4px">24.96.120.40</div>
<div class="r" style="left:165.5px;top:938.5px;width:564px;height:69px;border:2px solid #c8cedb;border-radius:8px;background:#fff"></div>
<svg style="left:180px;top:950px" width="60" height="50" viewBox="180 950 60 50" fill="none" stroke="#858f96" stroke-width="3.5"><circle cx="205" cy="970" r="12.5"/><line x1="214" y1="979" x2="224" y2="989"/></svg>
<div class="t" style="left:246.8px;top:957.3px;font-size:33px;color:#8a949a;font-weight:400;">Search facets</div>
<div class="r" style="left:165.5px;top:1028.4px;width:564.0px;height:59.6px;background:#e3e6ef;border-radius:9px"></div>
<svg style="left:185px;top:1038.2px" width="40" height="40" viewBox="0 0 40 40" fill="none" stroke="#5f6b77" stroke-width="3.5"><polyline points="8,15 20,27 32,15"/></svg>
<div class="t" style="left:235.1px;top:1046.6px;font-size:26.5px;color:#5f6b77;font-weight:400;letter-spacing:-0.6px">DEVICE</div>
<div class="r" style="left:165.5px;top:1659.5px;width:564.0px;height:60.1px;background:#e3e6ef;border-radius:9px"></div>
<svg style="left:185px;top:1669.5px" width="40" height="40" viewBox="0 0 40 40" fill="none" stroke="#5f6b77" stroke-width="3.5"><polyline points="8,15 20,27 32,15"/></svg>
<div class="t" style="left:235.1px;top:1678.1px;font-size:26.5px;color:#5f6b77;font-weight:400;letter-spacing:-0.6px">FLOW</div>
<svg style="left:190px;top:1124.0px" width="30" height="40" viewBox="0 0 30 40" fill="none" stroke="#5f6b77" stroke-width="3.5"><polyline points="9,8 21,20 9,32"/></svg>
<div class="t" style="left:235.8px;top:1128.9px;font-size:32px;color:#1c2b36;font-weight:700;letter-spacing:0.1px">Device IP</div>
<div class="r" style="left:165.5px;top:1189.0px;width:564.0px;height:2.0px;background:#e2e5ec"></div>
<svg style="left:190px;top:1216.0px" width="30" height="40" viewBox="0 0 30 40" fill="none" stroke="#5f6b77" stroke-width="3.5"><polyline points="9,8 21,20 9,32"/></svg>
<div class="t" style="left:235.8px;top:1220.9px;font-size:32px;color:#1c2b36;font-weight:700;letter-spacing:0.1px">Device Model</div>
<div class="r" style="left:165.5px;top:1281.0px;width:564.0px;height:2.0px;background:#e2e5ec"></div>
<svg style="left:190px;top:1308.0px" width="30" height="40" viewBox="0 0 30 40" fill="none" stroke="#5f6b77" stroke-width="3.5"><polyline points="9,8 21,20 9,32"/></svg>
<div class="t" style="left:235.8px;top:1312.9px;font-size:32px;color:#1c2b36;font-weight:700;letter-spacing:0.1px">Device Name</div>
<div class="r" style="left:165.5px;top:1373.0px;width:564.0px;height:2.0px;background:#e2e5ec"></div>
<svg style="left:190px;top:1400.0px" width="30" height="40" viewBox="0 0 30 40" fill="none" stroke="#5f6b77" stroke-width="3.5"><polyline points="9,8 21,20 9,32"/></svg>
<div class="t" style="left:235.8px;top:1404.9px;font-size:32px;color:#1c2b36;font-weight:700;letter-spacing:0.1px">Device Namespace</div>
<div class="r" style="left:165.5px;top:1465.0px;width:564.0px;height:2.0px;background:#e2e5ec"></div>
<svg style="left:190px;top:1492.0px" width="30" height="40" viewBox="0 0 30 40" fill="none" stroke="#5f6b77" stroke-width="3.5"><polyline points="9,8 21,20 9,32"/></svg>
<div class="t" style="left:235.8px;top:1496.9px;font-size:32px;color:#1c2b36;font-weight:700;letter-spacing:0.1px">Device Vendor</div>
<div class="r" style="left:165.5px;top:1557.0px;width:564.0px;height:2.0px;background:#e2e5ec"></div>
<svg style="left:190px;top:1583.0px" width="30" height="40" viewBox="0 0 30 40" fill="none" stroke="#5f6b77" stroke-width="3.5"><polyline points="9,8 21,20 9,32"/></svg>
<div class="t" style="left:235.8px;top:1587.9px;font-size:32px;color:#1c2b36;font-weight:700;letter-spacing:0.1px">Exporter IP</div>
<svg style="left:190px;top:1755.0px" width="30" height="40" viewBox="0 0 30 40" fill="none" stroke="#5f6b77" stroke-width="3.5"><polyline points="9,8 21,20 9,32"/></svg>
<div class="t" style="left:235.8px;top:1759.9px;font-size:32px;color:#1c2b36;font-weight:700;letter-spacing:0.1px">Bytes</div>
<div class="r" style="left:165.5px;top:1820.0px;width:564.0px;height:2.0px;background:#e2e5ec"></div>
<svg style="left:190px;top:1846.9px" width="30" height="40" viewBox="0 0 30 40" fill="none" stroke="#5f6b77" stroke-width="3.5"><polyline points="9,8 21,20 9,32"/></svg>
<div class="t" style="left:235.8px;top:1851.8px;font-size:32px;color:#1c2b36;font-weight:700;letter-spacing:0.6px">Destination Application Na...</div>
<div class="r" style="left:165.5px;top:1911.9px;width:564.0px;height:2.0px;background:#e2e5ec"></div>
<svg style="left:190px;top:1938.8px" width="30" height="40" viewBox="0 0 30 40" fill="none" stroke="#5f6b77" stroke-width="3.5"><polyline points="9,8 21,20 9,32"/></svg>
<div class="t" style="left:235.8px;top:1943.7px;font-size:32px;color:#1c2b36;font-weight:700;letter-spacing:0.6px">Destination Cloud Provider ...</div>
<div class="r" style="left:165.5px;top:2003.8px;width:564.0px;height:2.0px;background:#e2e5ec"></div>
<svg style="left:190px;top:2030.7px" width="30" height="40" viewBox="0 0 30 40" fill="none" stroke="#5f6b77" stroke-width="3.5"><polyline points="9,8 21,20 9,32"/></svg>
<div class="t" style="left:235.8px;top:2035.6px;font-size:32px;color:#1c2b36;font-weight:700;letter-spacing:0.6px">Destination Cloud Provider ...</div>
<div class="r" style="left:165.5px;top:2095.7px;width:564.0px;height:2.0px;background:#e2e5ec"></div>
<svg style="left:190px;top:2122.6px" width="30" height="40" viewBox="0 0 30 40" fill="none" stroke="#5f6b77" stroke-width="3.5"><polyline points="9,8 21,20 9,32"/></svg>
<div class="t" style="left:235.8px;top:2127.5px;font-size:32px;color:#1c2b36;font-weight:700;letter-spacing:0.6px">Destination Cloud Provider ...</div>
<div class="r" style="left:165.5px;top:2187.6px;width:564.0px;height:2.0px;background:#e2e5ec"></div>
<svg style="left:815px;top:970px" width="50" height="45" viewBox="815 970 50 45">
<defs><clipPath id="hc"><rect x="823.5" y="977" width="10.5" height="31"/></clipPath></defs>
<g clip-path="url(#hc)" stroke="#0b63be" stroke-width="1.6"><line x1="822" y1="985.0" x2="836" y2="971.0"/><line x1="822" y1="990.2" x2="836" y2="976.2"/><line x1="822" y1="995.4" x2="836" y2="981.4"/><line x1="822" y1="1000.6" x2="836" y2="986.6"/><line x1="822" y1="1005.8" x2="836" y2="991.8"/><line x1="822" y1="1011.0" x2="836" y2="997.0"/><line x1="822" y1="1016.2" x2="836" y2="1002.2"/><line x1="822" y1="1021.4" x2="836" y2="1007.4"/></g>
<rect x="822.8" y="976.5" width="31.6" height="31.6" rx="4.5" fill="none" stroke="#0b63be" stroke-width="3"/>
<polyline points="846,986 839,992.5 846,999" fill="none" stroke="#0b63be" stroke-width="3.2" stroke-linecap="round" stroke-linejoin="round"/>
</svg>
<div class="t" style="left:871.9px;top:976.4px;font-size:34px;color:#0b63be;font-weight:400;">Hide Controls</div>
<div class="t" style="left:1109.5px;top:976.4px;font-size:34px;color:#1c2b36;font-weight:400;letter-spacing:0.25px">Showing <b>1–50</b> of <b>100</b> aggregated flows from <b>63</b> devices emitting netflow</div>
<svg style="left:3524.4px;top:970.2px" width="45" height="45" viewBox="-22.5 -22.5 45 45">
<g fill="#5f6b77"><circle r="12.5"/><path d="M-4.6 -16.6 H4.6 L5.6 -9 H-5.6 Z" transform="rotate(0)"/><path d="M-4.6 -16.6 H4.6 L5.6 -9 H-5.6 Z" transform="rotate(60)"/><path d="M-4.6 -16.6 H4.6 L5.6 -9 H-5.6 Z" transform="rotate(120)"/><path d="M-4.6 -16.6 H4.6 L5.6 -9 H-5.6 Z" transform="rotate(180)"/><path d="M-4.6 -16.6 H4.6 L5.6 -9 H-5.6 Z" transform="rotate(240)"/><path d="M-4.6 -16.6 H4.6 L5.6 -9 H-5.6 Z" transform="rotate(300)"/></g><circle r="6" fill="#fff"/></svg>
<div class="t" style="left:3582.3px;top:976.2px;font-size:34px;color:#5f6b77;font-weight:400;">Customize</div>
<div class="r" style="left:790px;top:1049px;width:2980px;height:1200px;border:2px solid #e2e5ec;border-radius:10px 10px 0 0"></div>
<div class="r" style="left:792.0px;top:1188.4px;width:2976.0px;height:138.8px;background:#eaf4fc"></div>
<div class="r" style="left:790.0px;top:1117.6px;width:2980.0px;height:2.0px;background:#e2e5ec"></div>
<div class="r" style="left:790.0px;top:1187.4px;width:2980.0px;height:2.0px;background:#e2e5ec"></div>
<div class="r" style="left:790.0px;top:1326.2px;width:2980.0px;height:2.0px;background:#e2e5ec"></div>
<div class="r" style="left:790.0px;top:1465.0px;width:2980.0px;height:2.0px;background:#e2e5ec"></div>
<div class="r" style="left:790.0px;top:1603.8px;width:2980.0px;height:2.0px;background:#e2e5ec"></div>
<div class="r" style="left:790.0px;top:1742.6px;width:2980.0px;height:2.0px;background:#e2e5ec"></div>
<div class="r" style="left:790.0px;top:1881.4px;width:2980.0px;height:2.0px;background:#e2e5ec"></div>
<div class="r" style="left:790.0px;top:2020.2px;width:2980.0px;height:2.0px;background:#e2e5ec"></div>
<div class="r" style="left:790.0px;top:2159.0px;width:2980.0px;height:2.0px;background:#e2e5ec"></div>
<div class="r" style="left:1134.0px;top:1049.0px;width:2.0px;height:1111.0px;background:#e2e5ec"></div>
<div class="r" style="left:1893.4px;top:1049.0px;width:2.0px;height:1111.0px;background:#e2e5ec"></div>
<div class="r" style="left:2253.7px;top:1049.0px;width:2.0px;height:1111.0px;background:#e2e5ec"></div>
<div class="r" style="left:3012.0px;top:1049.0px;width:2.0px;height:1111.0px;background:#e2e5ec"></div>
<div class="t" style="left:-37.0px;width:2000px;text-align:center;top:1069.1px;font-size:31px;color:#5f6b77;font-weight:400;letter-spacing:-1.2px">SOURCE</div>
<div class="t" style="left:514.5px;width:2000px;text-align:center;top:1069.1px;font-size:31px;color:#5f6b77;font-weight:400;letter-spacing:-0.6px">DEVICE</div>
<div class="t" style="left:1073.5px;width:2000px;text-align:center;top:1069.1px;font-size:31px;color:#5f6b77;font-weight:400;letter-spacing:0.4px">DESTINATION</div>
<div class="t" style="left:2390.5px;width:2000px;text-align:center;top:1069.1px;font-size:31px;color:#5f6b77;font-weight:400;letter-spacing:-0.6px">VOLUME</div>
<div class="t" style="left:809.2px;top:1140.8px;font-size:28px;color:#1c2b36;font-weight:700;letter-spacing:-0.2px">IP</div>
<div class="t" style="left:1152.3px;top:1140.8px;font-size:28px;color:#1c2b36;font-weight:700;letter-spacing:-0.2px">EXPORTER IP</div>
<div class="t" style="left:1531.4px;top:1140.8px;font-size:28px;color:#1c2b36;font-weight:700;letter-spacing:-0.2px">DEVICE IP</div>
<div class="t" style="left:1909.4px;top:1140.8px;font-size:28px;color:#1c2b36;font-weight:700;letter-spacing:-0.2px">IP</div>
<div class="t" style="left:2271.1px;top:1140.8px;font-size:28px;color:#1c2b36;font-weight:700;letter-spacing:-0.2px">PROTOCOL</div>
<div class="t" style="left:2522.7px;top:1140.8px;font-size:28px;color:#1c2b36;font-weight:700;letter-spacing:-0.2px">NEXT HOP IP</div>
<div class="t" style="left:2802.8px;top:1140.8px;font-size:28px;color:#1c2b36;font-weight:700;letter-spacing:-0.2px">TYPE</div>
<div class="t" style="left:3079.2px;top:1140.8px;font-size:28px;color:#1c2b36;font-weight:700;letter-spacing:-0.2px">BITS</div>
<div class="t" style="left:3411.5px;top:1140.8px;font-size:28px;color:#1c2b36;font-weight:700;letter-spacing:-1.0px">PACKETS</div>
<svg style="left:1360px;top:1130px" width="50" height="50" viewBox="1360 1130 50 50"><circle cx="1385" cy="1153.7" r="17" fill="#0b63be"/><text x="1385" y="1165" font-family="Liberation Sans" font-weight="700" font-size="28" fill="#fff" text-anchor="middle">?</text></svg>
<svg style="left:3025px;top:1135px" width="45" height="40" viewBox="3025 1135 45 40" fill="none" stroke="#1c2b36" stroke-width="3.2"><line x1="3047" y1="1142" x2="3047" y2="1168"/><polyline points="3035,1156 3047,1168 3059,1156"/></svg>
<div class="r" style="left:810.4px;top:1208.0px;width:247.6px;height:53.5px;border:2px solid #dde3ec;border-radius:7px;background:#eef5fc"></div>
<svg style="left:826.0px;top:1219.2px" width="32" height="32" viewBox="0 0 32 32" fill="#0b63be">
<path fill-rule="evenodd" d="M0.2 0 H22.4 V7 H31.5 V31.5 H0.2 Z M3.8 3.6 V27.9 H18.8 V3.6 Z M23.2 10.6 V27.9 H28.4 V10.6 Z"/>
<rect x="6.9" y="7.4" width="2.9" height="2.9"/><rect x="13" y="7.4" width="2.9" height="2.9"/><rect x="6.9" y="13" width="2.9" height="2.9"/><rect x="13" y="13" width="2.9" height="2.9"/><rect x="6.9" y="18.7" width="2.9" height="2.9"/><rect x="13" y="18.7" width="2.9" height="2.9"/>
<rect x="23" y="11" width="3.2" height="2.8"/><rect x="23" y="16.6" width="3.2" height="2.8"/><rect x="23" y="22.2" width="3.2" height="2.8"/>
</svg>
<div class="t" style="left:872.0px;top:1219.7px;font-size:32px;color:#1c2b36;font-weight:400;letter-spacing:0.4px">10.1.122.20</div>
<div class="r" style="left:1152.7px;top:1208.0px;width:284.1px;height:53.5px;border:2px solid #dde3ec;border-radius:7px;background:#eef5fc"></div>
<svg style="left:1168.3px;top:1219.2px" width="32" height="32" viewBox="0 0 32 32" fill="#0b63be">
<path fill-rule="evenodd" d="M0.2 0 H22.4 V7 H31.5 V31.5 H0.2 Z M3.8 3.6 V27.9 H18.8 V3.6 Z M23.2 10.6 V27.9 H28.4 V10.6 Z"/>
<rect x="6.9" y="7.4" width="2.9" height="2.9"/><rect x="13" y="7.4" width="2.9" height="2.9"/><rect x="6.9" y="13" width="2.9" height="2.9"/><rect x="13" y="13" width="2.9" height="2.9"/><rect x="6.9" y="18.7" width="2.9" height="2.9"/><rect x="13" y="18.7" width="2.9" height="2.9"/>
<rect x="23" y="11" width="3.2" height="2.8"/><rect x="23" y="16.6" width="3.2" height="2.8"/><rect x="23" y="22.2" width="3.2" height="2.8"/>
</svg>
<div class="t" style="left:1214.3px;top:1219.7px;font-size:32px;color:#1c2b36;font-weight:400;letter-spacing:0.4px">10.100.70.143</div>
<div class="r" style="left:1531.4px;top:1208.0px;width:284.6px;height:53.5px;border:2px solid #dde3ec;border-radius:7px;background:#eef5fc"></div>
<svg style="left:1547.0px;top:1219.2px" width="32" height="32" viewBox="0 0 32 32" fill="#0b63be">
<path fill-rule="evenodd" d="M0.2 0 H22.4 V7 H31.5 V31.5 H0.2 Z M3.8 3.6 V27.9 H18.8 V3.6 Z M23.2 10.6 V27.9 H28.4 V10.6 Z"/>
<rect x="6.9" y="7.4" width="2.9" height="2.9"/><rect x="13" y="7.4" width="2.9" height="2.9"/><rect x="6.9" y="13" width="2.9" height="2.9"/><rect x="13" y="13" width="2.9" height="2.9"/><rect x="6.9" y="18.7" width="2.9" height="2.9"/><rect x="13" y="18.7" width="2.9" height="2.9"/>
<rect x="23" y="11" width="3.2" height="2.8"/><rect x="23" y="16.6" width="3.2" height="2.8"/><rect x="23" y="22.2" width="3.2" height="2.8"/>
</svg>
<div class="t" style="left:1593.0px;top:1219.7px;font-size:32px;color:#1c2b36;font-weight:400;letter-spacing:0.4px">10.100.70.143</div>
<div class="r" style="left:1910.6px;top:1208.0px;width:266.6px;height:53.5px;border:2px solid #dde3ec;border-radius:7px;background:#eef5fc"></div>
<svg style="left:1923.6px;top:1216.9px" width="37" height="37" viewBox="0 0 37 37" fill="none" stroke="#0b63be" stroke-width="3.1">
<circle cx="18.5" cy="18.5" r="16.6"/><ellipse cx="18.5" cy="18.5" rx="7.3" ry="16.6"/><line x1="2" y1="18.5" x2="35" y2="18.5"/></svg>
<div class="t" style="left:1971.1px;top:1219.7px;font-size:32px;color:#0b63be;font-weight:400;letter-spacing:0.4px">24.96.120.40</div>
<div class="t" style="left:2269.7px;top:1217.3px;font-size:32px;color:#1c2b36;font-weight:400;">TCP</div>
<div class="t" style="left:2270.8px;top:1273.3px;font-size:28px;color:#5f6b77;font-weight:400;">tcp_flag:FIN</div>
<div class="t" style="left:2523.4px;top:1217.3px;font-size:32px;color:#1c2b36;font-weight:400;letter-spacing:0.2px">10.20.1.91</div>
<div class="t" style="left:2802.8px;top:1217.3px;font-size:32px;color:#1c2b36;font-weight:400;letter-spacing:1.8px">netflow9</div>
<div class="t" style="left:3028.8px;top:1217.3px;font-size:32px;color:#1c2b36;font-weight:400;letter-spacing:1.05px"><b>905</b> <b style="color:#8a979d">Mb</b> | <b>251</b> <b style="color:#8a979d">kbps</b></div>
<div class="t" style="left:3411.5px;top:1217.3px;font-size:32px;color:#1c2b36;font-weight:400;letter-spacing:1.0px"><b>956</b> <b style="color:#8a979d">kp</b> | <b>265</b> <b style="color:#8a979d">pps</b></div>
<div class="r" style="left:810.4px;top:1346.8px;width:247.6px;height:53.5px;border:2px solid #e2e5ec;border-radius:7px;background:#fff"></div>
<svg style="left:826.0px;top:1358.0px" width="32" height="32" viewBox="0 0 32 32" fill="#0b63be">
<path fill-rule="evenodd" d="M0.2 0 H22.4 V7 H31.5 V31.5 H0.2 Z M3.8 3.6 V27.9 H18.8 V3.6 Z M23.2 10.6 V27.9 H28.4 V10.6 Z"/>
<rect x="6.9" y="7.4" width="2.9" height="2.9"/><rect x="13" y="7.4" width="2.9" height="2.9"/><rect x="6.9" y="13" width="2.9" height="2.9"/><rect x="13" y="13" width="2.9" height="2.9"/><rect x="6.9" y="18.7" width="2.9" height="2.9"/><rect x="13" y="18.7" width="2.9" height="2.9"/>
<rect x="23" y="11" width="3.2" height="2.8"/><rect x="23" y="16.6" width="3.2" height="2.8"/><rect x="23" y="22.2" width="3.2" height="2.8"/>
</svg>
<div class="t" style="left:872.0px;top:1358.5px;font-size:32px;color:#1c2b36;font-weight:400;letter-spacing:0.4px">10.1.122.20</div>
<div class="r" style="left:1152.7px;top:1346.8px;width:284.1px;height:53.5px;border:2px solid #e2e5ec;border-radius:7px;background:#fff"></div>
<svg style="left:1168.3px;top:1358.0px" width="32" height="32" viewBox="0 0 32 32" fill="#0b63be">
<path fill-rule="evenodd" d="M0.2 0 H22.4 V7 H31.5 V31.5 H0.2 Z M3.8 3.6 V27.9 H18.8 V3.6 Z M23.2 10.6 V27.9 H28.4 V10.6 Z"/>
<rect x="6.9" y="7.4" width="2.9" height="2.9"/><rect x="13" y="7.4" width="2.9" height="2.9"/><rect x="6.9" y="13" width="2.9" height="2.9"/><rect x="13" y="13" width="2.9" height="2.9"/><rect x="6.9" y="18.7" width="2.9" height="2.9"/><rect x="13" y="18.7" width="2.9" height="2.9"/>
<rect x="23" y="11" width="3.2" height="2.8"/><rect x="23" y="16.6" width="3.2" height="2.8"/><rect x="23" y="22.2" width="3.2" height="2.8"/>
</svg>
<div class="t" style="left:1214.3px;top:1358.5px;font-size:32px;color:#1c2b36;font-weight:400;letter-spacing:0.4px">10.100.70.134</div>
<div class="r" style="left:1531.4px;top:1346.8px;width:284.6px;height:53.5px;border:2px solid #e2e5ec;border-radius:7px;background:#fff"></div>
<svg style="left:1547.0px;top:1358.0px" width="32" height="32" viewBox="0 0 32 32" fill="#0b63be">
<path fill-rule="evenodd" d="M0.2 0 H22.4 V7 H31.5 V31.5 H0.2 Z M3.8 3.6 V27.9 H18.8 V3.6 Z M23.2 10.6 V27.9 H28.4 V10.6 Z"/>
<rect x="6.9" y="7.4" width="2.9" height="2.9"/><rect x="13" y="7.4" width="2.9" height="2.9"/><rect x="6.9" y="13" width="2.9" height="2.9"/><rect x="13" y="13" width="2.9" height="2.9"/><rect x="6.9" y="18.7" width="2.9" height="2.9"/><rect x="13" y="18.7" width="2.9" height="2.9"/>
<rect x="23" y="11" width="3.2" height="2.8"/><rect x="23" y="16.6" width="3.2" height="2.8"/><rect x="23" y="22.2" width="3.2" height="2.8"/>
</svg>
<div class="t" style="left:1593.0px;top:1358.5px;font-size:32px;color:#1c2b36;font-weight:400;letter-spacing:0.4px">10.100.70.134</div>
<div class="t" style="left:3411.5px;top:1356.1px;font-size:32px;color:#1c2b36;font-weight:400;letter-spacing:1.0px"><b>946</b> <b style="color:#8a979d">kp</b> | <b>263</b> <b style="color:#8a979d">pps</b></div>
<div class="r" style="left:810.4px;top:1485.6px;width:247.6px;height:53.5px;border:2px solid #e2e5ec;border-radius:7px;background:#fff"></div>
<svg style="left:826.0px;top:1496.8px" width="32" height="32" viewBox="0 0 32 32" fill="#0b63be">
<path fill-rule="evenodd" d="M0.2 0 H22.4 V7 H31.5 V31.5 H0.2 Z M3.8 3.6 V27.9 H18.8 V3.6 Z M23.2 10.6 V27.9 H28.4 V10.6 Z"/>
<rect x="6.9" y="7.4" width="2.9" height="2.9"/><rect x="13" y="7.4" width="2.9" height="2.9"/><rect x="6.9" y="13" width="2.9" height="2.9"/><rect x="13" y="13" width="2.9" height="2.9"/><rect x="6.9" y="18.7" width="2.9" height="2.9"/><rect x="13" y="18.7" width="2.9" height="2.9"/>
<rect x="23" y="11" width="3.2" height="2.8"/><rect x="23" y="16.6" width="3.2" height="2.8"/><rect x="23" y="22.2" width="3.2" height="2.8"/>
</svg>
<div class="t" style="left:872.0px;top:1497.3px;font-size:32px;color:#1c2b36;font-weight:400;letter-spacing:0.4px">10.1.122.20</div>
<div class="r" style="left:1152.7px;top:1485.6px;width:284.1px;height:53.5px;border:2px solid #e2e5ec;border-radius:7px;background:#fff"></div>
<svg style="left:1168.3px;top:1496.8px" width="32" height="32" viewBox="0 0 32 32" fill="#0b63be">
<path fill-rule="evenodd" d="M0.2 0 H22.4 V7 H31.5 V31.5 H0.2 Z M3.8 3.6 V27.9 H18.8 V3.6 Z M23.2 10.6 V27.9 H28.4 V10.6 Z"/>
<rect x="6.9" y="7.4" width="2.9" height="2.9"/><rect x="13" y="7.4" width="2.9" height="2.9"/><rect x="6.9" y="13" width="2.9" height="2.9"/><rect x="13" y="13" width="2.9" height="2.9"/><rect x="6.9" y="18.7" width="2.9" height="2.9"/><rect x="13" y="18.7" width="2.9" height="2.9"/>
<rect x="23" y="11" width="3.2" height="2.8"/><rect x="23" y="16.6" width="3.2" height="2.8"/><rect x="23" y="22.2" width="3.2" height="2.8"/>
</svg>
<div class="t" style="left:1214.3px;top:1497.3px;font-size:32px;color:#1c2b36;font-weight:400;letter-spacing:0.4px">10.100.70.140</div>
<div class="r" style="left:1531.4px;top:1485.6px;width:284.6px;height:53.5px;border:2px solid #e2e5ec;border-radius:7px;background:#fff"></div>
<svg style="left:1547.0px;top:1496.8px" width="32" height="32" viewBox="0 0 32 32" fill="#0b63be">
<path fill-rule="evenodd" d="M0.2 0 H22.4 V7 H31.5 V31.5 H0.2 Z M3.8 3.6 V27.9 H18.8 V3.6 Z M23.2 10.6 V27.9 H28.4 V10.6 Z"/>
<rect x="6.9" y="7.4" width="2.9" height="2.9"/><rect x="13" y="7.4" width="2.9" height="2.9"/><rect x="6.9" y="13" width="2.9" height="2.9"/><rect x="13" y="13" width="2.9" height="2.9"/><rect x="6.9" y="18.7" width="2.9" height="2.9"/><rect x="13" y="18.7" width="2.9" height="2.9"/>
<rect x="23" y="11" width="3.2" height="2.8"/><rect x="23" y="16.6" width="3.2" height="2.8"/><rect x="23" y="22.2" width="3.2" height="2.8"/>
</svg>
<div class="t" style="left:1593.0px;top:1497.3px;font-size:32px;color:#1c2b36;font-weight:400;letter-spacing:0.4px">10.100.70.140</div>
<div class="t" style="left:3411.5px;top:1494.9px;font-size:32px;color:#1c2b36;font-weight:400;letter-spacing:1.0px"><b>950</b> <b style="color:#8a979d">kp</b> | <b>264</b> <b style="color:#8a979d">pps</b></div>
<div class="r" style="left:810.4px;top:1624.4px;width:247.6px;height:53.5px;border:2px solid #e2e5ec;border-radius:7px;background:#fff"></div>
<svg style="left:826.0px;top:1635.6px" width="32" height="32" viewBox="0 0 32 32" fill="#0b63be">
<path fill-rule="evenodd" d="M0.2 0 H22.4 V7 H31.5 V31.5 H0.2 Z M3.8 3.6 V27.9 H18.8 V3.6 Z M23.2 10.6 V27.9 H28.4 V10.6 Z"/>
<rect x="6.9" y="7.4" width="2.9" height="2.9"/><rect x="13" y="7.4" width="2.9" height="2.9"/><rect x="6.9" y="13" width="2.9" height="2.9"/><rect x="13" y="13" width="2.9" height="2.9"/><rect x="6.9" y="18.7" width="2.9" height="2.9"/><rect x="13" y="18.7" width="2.9" height="2.9"/>
<rect x="23" y="11" width="3.2" height="2.8"/><rect x="23" y="16.6" width="3.2" height="2.8"/><rect x="23" y="22.2" width="3.2" height="2.8"/>
</svg>
<div class="t" style="left:872.0px;top:1636.1px;font-size:32px;color:#1c2b36;font-weight:400;letter-spacing:0.4px">10.1.122.20</div>
<div class="r" style="left:1152.7px;top:1624.4px;width:284.1px;height:53.5px;border:2px solid #e2e5ec;border-radius:7px;background:#fff"></div>
<svg style="left:1168.3px;top:1635.6px" width="32" height="32" viewBox="0 0 32 32" fill="#0b63be">
<path fill-rule="evenodd" d="M0.2 0 H22.4 V7 H31.5 V31.5 H0.2 Z M3.8 3.6 V27.9 H18.8 V3.6 Z M23.2 10.6 V27.9 H28.4 V10.6 Z"/>
<rect x="6.9" y="7.4" width="2.9" height="2.9"/><rect x="13" y="7.4" width="2.9" height="2.9"/><rect x="6.9" y="13" width="2.9" height="2.9"/><rect x="13" y="13" width="2.9" height="2.9"/><rect x="6.9" y="18.7" width="2.9" height="2.9"/><rect x="13" y="18.7" width="2.9" height="2.9"/>
<rect x="23" y="11" width="3.2" height="2.8"/><rect x="23" y="16.6" width="3.2" height="2.8"/><rect x="23" y="22.2" width="3.2" height="2.8"/>
</svg>
<div class="t" style="left:1214.3px;top:1636.1px;font-size:32px;color:#1c2b36;font-weight:400;letter-spacing:0.4px">10.100.70.142</div>
<div class="r" style="left:1531.4px;top:1624.4px;width:284.6px;height:53.5px;border:2px solid #e2e5ec;border-radius:7px;background:#fff"></div>
<svg style="left:1547.0px;top:1635.6px" width="32" height="32" viewBox="0 0 32 32" fill="#0b63be">
<path fill-rule="evenodd" d="M0.2 0 H22.4 V7 H31.5 V31.5 H0.2 Z M3.8 3.6 V27.9 H18.8 V3.6 Z M23.2 10.6 V27.9 H28.4 V10.6 Z"/>
<rect x="6.9" y="7.4" width="2.9" height="2.9"/><rect x="13" y="7.4" width="2.9" height="2.9"/><rect x="6.9" y="13" width="2.9" height="2.9"/><rect x="13" y="13" width="2.9" height="2.9"/><rect x="6.9" y="18.7" width="2.9" height="2.9"/><rect x="13" y="18.7" width="2.9" height="2.9"/>
<rect x="23" y="11" width="3.2" height="2.8"/><rect x="23" y="16.6" width="3.2" height="2.8"/><rect x="23" y="22.2" width="3.2" height="2.8"/>
</svg>
<div class="t" style="left:1593.0px;top:1636.1px;font-size:32px;color:#1c2b36;font-weight:400;letter-spacing:0.4px">10.100.70.142</div>
<div class="t" style="left:3411.5px;top:1633.7px;font-size:32px;color:#1c2b36;font-weight:400;letter-spacing:1.0px"><b>956</b> <b style="color:#8a979d">kp</b> | <b>266</b> <b style="color:#8a979d">pps</b></div>
<div class="r" style="left:810.4px;top:1763.2px;width:247.6px;height:53.5px;border:2px solid #e2e5ec;border-radius:7px;background:#fff"></div>
<svg style="left:826.0px;top:1774.4px" width="32" height="32" viewBox="0 0 32 32" fill="#0b63be">
<path fill-rule="evenodd" d="M0.2 0 H22.4 V7 H31.5 V31.5 H0.2 Z M3.8 3.6 V27.9 H18.8 V3.6 Z M23.2 10.6 V27.9 H28.4 V10.6 Z"/>
<rect x="6.9" y="7.4" width="2.9" height="2.9"/><rect x="13" y="7.4" width="2.9" height="2.9"/><rect x="6.9" y="13" width="2.9" height="2.9"/><rect x="13" y="13" width="2.9" height="2.9"/><rect x="6.9" y="18.7" width="2.9" height="2.9"/><rect x="13" y="18.7" width="2.9" height="2.9"/>
<rect x="23" y="11" width="3.2" height="2.8"/><rect x="23" y="16.6" width="3.2" height="2.8"/><rect x="23" y="22.2" width="3.2" height="2.8"/>
</svg>
<div class="t" style="left:872.0px;top:1774.9px;font-size:32px;color:#1c2b36;font-weight:400;letter-spacing:0.4px">10.1.122.20</div>
<div class="r" style="left:1152.7px;top:1763.2px;width:284.1px;height:53.5px;border:2px solid #e2e5ec;border-radius:7px;background:#fff"></div>
<svg style="left:1168.3px;top:1774.4px" width="32" height="32" viewBox="0 0 32 32" fill="#0b63be">
<path fill-rule="evenodd" d="M0.2 0 H22.4 V7 H31.5 V31.5 H0.2 Z M3.8 3.6 V27.9 H18.8 V3.6 Z M23.2 10.6 V27.9 H28.4 V10.6 Z"/>
<rect x="6.9" y="7.4" width="2.9" height="2.9"/><rect x="13" y="7.4" width="2.9" height="2.9"/><rect x="6.9" y="13" width="2.9" height="2.9"/><rect x="13" y="13" width="2.9" height="2.9"/><rect x="6.9" y="18.7" width="2.9" height="2.9"/><rect x="13" y="18.7" width="2.9" height="2.9"/>
<rect x="23" y="11" width="3.2" height="2.8"/><rect x="23" y="16.6" width="3.2" height="2.8"/><rect x="23" y="22.2" width="3.2" height="2.8"/>
</svg>
<div class="t" style="left:1214.3px;top:1774.9px;font-size:32px;color:#1c2b36;font-weight:400;letter-spacing:0.4px">10.100.70.140</div>
<div class="r" style="left:1531.4px;top:1763.2px;width:284.6px;height:53.5px;border:2px solid #e2e5ec;border-radius:7px;background:#fff"></div>
<svg style="left:1547.0px;top:1774.4px" width="32" height="32" viewBox="0 0 32 32" fill="#0b63be">
<path fill-rule="evenodd" d="M0.2 0 H22.4 V7 H31.5 V31.5 H0.2 Z M3.8 3.6 V27.9 H18.8 V3.6 Z M23.2 10.6 V27.9 H28.4 V10.6 Z"/>
<rect x="6.9" y="7.4" width="2.9" height="2.9"/><rect x="13" y="7.4" width="2.9" height="2.9"/><rect x="6.9" y="13" width="2.9" height="2.9"/><rect x="13" y="13" width="2.9" height="2.9"/><rect x="6.9" y="18.7" width="2.9" height="2.9"/><rect x="13" y="18.7" width="2.9" height="2.9"/>
<rect x="23" y="11" width="3.2" height="2.8"/><rect x="23" y="16.6" width="3.2" height="2.8"/><rect x="23" y="22.2" width="3.2" height="2.8"/>
</svg>
<div class="t" style="left:1593.0px;top:1774.9px;font-size:32px;color:#1c2b36;font-weight:400;letter-spacing:0.4px">10.100.70.140</div>
<div class="t" style="left:3411.5px;top:1772.5px;font-size:32px;color:#1c2b36;font-weight:400;letter-spacing:1.0px"><b>1.20</b> <b style="color:#8a979d">Mp</b> | <b>332</b> <b style="color:#8a979d">pps</b></div>
<div class="r" style="left:810.4px;top:1902.0px;width:247.6px;height:53.5px;border:2px solid #e2e5ec;border-radius:7px;background:#fff"></div>
<svg style="left:826.0px;top:1913.2px" width="32" height="32" viewBox="0 0 32 32" fill="#0b63be">
<path fill-rule="evenodd" d="M0.2 0 H22.4 V7 H31.5 V31.5 H0.2 Z M3.8 3.6 V27.9 H18.8 V3.6 Z M23.2 10.6 V27.9 H28.4 V10.6 Z"/>
<rect x="6.9" y="7.4" width="2.9" height="2.9"/><rect x="13" y="7.4" width="2.9" height="2.9"/><rect x="6.9" y="13" width="2.9" height="2.9"/><rect x="13" y="13" width="2.9" height="2.9"/><rect x="6.9" y="18.7" width="2.9" height="2.9"/><rect x="13" y="18.7" width="2.9" height="2.9"/>
<rect x="23" y="11" width="3.2" height="2.8"/><rect x="23" y="16.6" width="3.2" height="2.8"/><rect x="23" y="22.2" width="3.2" height="2.8"/>
</svg>
<div class="t" style="left:872.0px;top:1913.7px;font-size:32px;color:#1c2b36;font-weight:400;letter-spacing:0.4px">10.1.122.20</div>
<div class="r" style="left:1152.7px;top:1902.0px;width:284.1px;height:53.5px;border:2px solid #e2e5ec;border-radius:7px;background:#fff"></div>
<svg style="left:1168.3px;top:1913.2px" width="32" height="32" viewBox="0 0 32 32" fill="#0b63be">
<path fill-rule="evenodd" d="M0.2 0 H22.4 V7 H31.5 V31.5 H0.2 Z M3.8 3.6 V27.9 H18.8 V3.6 Z M23.2 10.6 V27.9 H28.4 V10.6 Z"/>
<rect x="6.9" y="7.4" width="2.9" height="2.9"/><rect x="13" y="7.4" width="2.9" height="2.9"/><rect x="6.9" y="13" width="2.9" height="2.9"/><rect x="13" y="13" width="2.9" height="2.9"/><rect x="6.9" y="18.7" width="2.9" height="2.9"/><rect x="13" y="18.7" width="2.9" height="2.9"/>
<rect x="23" y="11" width="3.2" height="2.8"/><rect x="23" y="16.6" width="3.2" height="2.8"/><rect x="23" y="22.2" width="3.2" height="2.8"/>
</svg>
<div class="t" style="left:1214.3px;top:1913.7px;font-size:32px;color:#1c2b36;font-weight:400;letter-spacing:0.4px">10.100.70.134</div>
<div class="r" style="left:1531.4px;top:1902.0px;width:284.6px;height:53.5px;border:2px solid #e2e5ec;border-radius:7px;background:#fff"></div>
<svg style="left:1547.0px;top:1913.2px" width="32" height="32" viewBox="0 0 32 32" fill="#0b63be">
<path fill-rule="evenodd" d="M0.2 0 H22.4 V7 H31.5 V31.5 H0.2 Z M3.8 3.6 V27.9 H18.8 V3.6 Z M23.2 10.6 V27.9 H28.4 V10.6 Z"/>
<rect x="6.9" y="7.4" width="2.9" height="2.9"/><rect x="13" y="7.4" width="2.9" height="2.9"/><rect x="6.9" y="13" width="2.9" height="2.9"/><rect x="13" y="13" width="2.9" height="2.9"/><rect x="6.9" y="18.7" width="2.9" height="2.9"/><rect x="13" y="18.7" width="2.9" height="2.9"/>
<rect x="23" y="11" width="3.2" height="2.8"/><rect x="23" y="16.6" width="3.2" height="2.8"/><rect x="23" y="22.2" width="3.2" height="2.8"/>
</svg>
<div class="t" style="left:1593.0px;top:1913.7px;font-size:32px;color:#1c2b36;font-weight:400;letter-spacing:0.4px">10.100.70.134</div>
<div class="r" style="left:1910.6px;top:1902.0px;width:266.6px;height:53.5px;border:2px solid #e2e5ec;border-radius:7px;background:#fff"></div>
<svg style="left:1923.6px;top:1910.9px" width="37" height="37" viewBox="0 0 37 37" fill="none" stroke="#0b63be" stroke-width="3.1">
<circle cx="18.5" cy="18.5" r="16.6"/><ellipse cx="18.5" cy="18.5" rx="7.3" ry="16.6"/><line x1="2" y1="18.5" x2="35" y2="18.5"/></svg>
<div class="t" style="left:1971.1px;top:1913.7px;font-size:32px;color:#1c2b36;font-weight:400;letter-spacing:0.4px">24.96.120.48</div>
<div class="t" style="left:2269.7px;top:1911.3px;font-size:32px;color:#1c2b36;font-weight:400;">TCP</div>
<div class="t" style="left:2270.8px;top:1967.3px;font-size:28px;color:#5f6b77;font-weight:400;">tcp_flag:FIN</div>
<div class="t" style="left:2523.4px;top:1911.3px;font-size:32px;color:#1c2b36;font-weight:400;letter-spacing:0.2px">10.20.1.65</div>
<div class="t" style="left:2802.8px;top:1911.3px;font-size:32px;color:#1c2b36;font-weight:400;letter-spacing:1.8px">netflow9</div>
<div class="t" style="left:3028.8px;top:1911.3px;font-size:32px;color:#1c2b36;font-weight:400;letter-spacing:1.05px"><b>825</b> <b style="color:#8a979d">Mb</b> | <b>229</b> <b style="color:#8a979d">kbps</b></div>
<div class="t" style="left:3411.5px;top:1911.3px;font-size:32px;color:#1c2b36;font-weight:400;letter-spacing:1.0px"><b>1.19</b> <b style="color:#8a979d">Mp</b> | <b>329</b> <b style="color:#8a979d">pps</b></div>
<div class="r" style="left:810.4px;top:2040.8px;width:247.6px;height:53.5px;border:2px solid #e2e5ec;border-radius:7px;background:#fff"></div>
<svg style="left:826.0px;top:2052.0px" width="32" height="32" viewBox="0 0 32 32" fill="#0b63be">
<path fill-rule="evenodd" d="M0.2 0 H22.4 V7 H31.5 V31.5 H0.2 Z M3.8 3.6 V27.9 H18.8 V3.6 Z M23.2 10.6 V27.9 H28.4 V10.6 Z"/>
<rect x="6.9" y="7.4" width="2.9" height="2.9"/><rect x="13" y="7.4" width="2.9" height="2.9"/><rect x="6.9" y="13" width="2.9" height="2.9"/><rect x="13" y="13" width="2.9" height="2.9"/><rect x="6.9" y="18.7" width="2.9" height="2.9"/><rect x="13" y="18.7" width="2.9" height="2.9"/>
<rect x="23" y="11" width="3.2" height="2.8"/><rect x="23" y="16.6" width="3.2" height="2.8"/><rect x="23" y="22.2" width="3.2" height="2.8"/>
</svg>
<div class="t" style="left:872.0px;top:2052.5px;font-size:32px;color:#1c2b36;font-weight:400;letter-spacing:0.4px">10.1.122.20</div>
<div class="r" style="left:1152.7px;top:2040.8px;width:284.1px;height:53.5px;border:2px solid #e2e5ec;border-radius:7px;background:#fff"></div>
<svg style="left:1168.3px;top:2052.0px" width="32" height="32" viewBox="0 0 32 32" fill="#0b63be">
<path fill-rule="evenodd" d="M0.2 0 H22.4 V7 H31.5 V31.5 H0.2 Z M3.8 3.6 V27.9 H18.8 V3.6 Z M23.2 10.6 V27.9 H28.4 V10.6 Z"/>
<rect x="6.9" y="7.4" width="2.9" height="2.9"/><rect x="13" y="7.4" width="2.9" height="2.9"/><rect x="6.9" y="13" width="2.9" height="2.9"/><rect x="13" y="13" width="2.9" height="2.9"/><rect x="6.9" y="18.7" width="2.9" height="2.9"/><rect x="13" y="18.7" width="2.9" height="2.9"/>
<rect x="23" y="11" width="3.2" height="2.8"/><rect x="23" y="16.6" width="3.2" height="2.8"/><rect x="23" y="22.2" width="3.2" height="2.8"/>
</svg>
<div class="t" style="left:1214.3px;top:2052.5px;font-size:32px;color:#1c2b36;font-weight:400;letter-spacing:0.4px">10.100.70.143</div>
<div class="r" style="left:1531.4px;top:2040.8px;width:284.6px;height:53.5px;border:2px solid #e2e5ec;border-radius:7px;background:#fff"></div>
<svg style="left:1547.0px;top:2052.0px" width="32" height="32" viewBox="0 0 32 32" fill="#0b63be">
<path fill-rule="evenodd" d="M0.2 0 H22.4 V7 H31.5 V31.5 H0.2 Z M3.8 3.6 V27.9 H18.8 V3.6 Z M23.2 10.6 V27.9 H28.4 V10.6 Z"/>
<rect x="6.9" y="7.4" width="2.9" height="2.9"/><rect x="13" y="7.4" width="2.9" height="2.9"/><rect x="6.9" y="13" width="2.9" height="2.9"/><rect x="13" y="13" width="2.9" height="2.9"/><rect x="6.9" y="18.7" width="2.9" height="2.9"/><rect x="13" y="18.7" width="2.9" height="2.9"/>
<rect x="23" y="11" width="3.2" height="2.8"/><rect x="23" y="16.6" width="3.2" height="2.8"/><rect x="23" y="22.2" width="3.2" height="2.8"/>
</svg>
<div class="t" style="left:1593.0px;top:2052.5px;font-size:32px;color:#1c2b36;font-weight:400;letter-spacing:0.4px">10.100.70.143</div>
<div class="r" style="left:1910.6px;top:2040.8px;width:266.6px;height:53.5px;border:2px solid #e2e5ec;border-radius:7px;background:#fff"></div>
<svg style="left:1923.6px;top:2049.7px" width="37" height="37" viewBox="0 0 37 37" fill="none" stroke="#0b63be" stroke-width="3.1">
<circle cx="18.5" cy="18.5" r="16.6"/><ellipse cx="18.5" cy="18.5" rx="7.3" ry="16.6"/><line x1="2" y1="18.5" x2="35" y2="18.5"/></svg>
<div class="t" style="left:1971.1px;top:2052.5px;font-size:32px;color:#1c2b36;font-weight:400;letter-spacing:0.4px">24.96.120.48</div>
<div class="t" style="left:2269.7px;top:2050.1px;font-size:32px;color:#1c2b36;font-weight:400;">TCP</div>
<div class="t" style="left:2270.8px;top:2106.1px;font-size:28px;color:#5f6b77;font-weight:400;">tcp_flag:FIN</div>
<div class="t" style="left:2523.4px;top:2050.1px;font-size:32px;color:#1c2b36;font-weight:400;letter-spacing:0.2px">10.20.1.89</div>
<div class="t" style="left:2802.8px;top:2050.1px;font-size:32px;color:#1c2b36;font-weight:400;letter-spacing:1.8px">netflow9</div>
<div class="t" style="left:3028.8px;top:2050.1px;font-size:32px;color:#1c2b36;font-weight:400;letter-spacing:1.05px"><b>822</b> <b style="color:#8a979d">Mb</b> | <b>228</b> <b style="color:#8a979d">kbps</b></div>
<div class="t" style="left:3411.5px;top:2050.1px;font-size:32px;color:#1c2b36;font-weight:400;letter-spacing:1.0px"><b>1.19</b> <b style="color:#8a979d">Mp</b> | <b>329</b> <b style="color:#8a979d">pps</b></div>
<div class="r" style="left:1909.7px;top:1286.6px;width:1450.6px;height:600.0px;background:#f7f8fb;box-shadow:0 8px 24px rgba(30,40,60,0.13),0 0 3px rgba(30,40,60,0.06)"></div>
<div class="r" style="left:1909.7px;top:1286.6px;width:725.6px;height:600.0px;background:#fff;box-shadow:4px 0 14px rgba(30,40,60,0.07)"></div>
<svg style="left:2020px;top:1262px" width="50" height="26" viewBox="2020 1262 50 26"><polygon points="2023.5,1287.5 2045,1265.5 2066.5,1287.5" fill="#fff"/></svg>
<div class="t" style="left:1949.0px;top:1318.6px;font-size:38px;color:#1c2b36;font-weight:700;letter-spacing:0.1px">24.96.120.40</div>
<svg style="left:2205px;top:1318px" width="40" height="40" viewBox="2205 1318 40 40" fill="none" stroke="#6a7784" stroke-width="3"><rect x="2211.5" y="1332" width="18" height="18"/><path d="M2218 1325 H2237.5 V1344.5"/><path d="M2218 1325 V1332 M2229.5 1344.5 H2237.5"/></svg>
<div class="r" style="left:2462.0px;top:1308.4px;width:57.0px;height:57.0px;border:2px solid #dfe2ea;border-radius:9px;background:#fff"></div>
<div class="r" style="left:2549.0px;top:1308.4px;width:45.0px;height:57.0px;border:2px solid #dfe2ea;border-radius:9px;background:#fff"></div>
<svg style="left:2475.6px;top:1321px" width="30" height="30" viewBox="0 0 24 24" fill="none" stroke="#1c2b36" stroke-width="2.1"><path d="M18 3a3 3 0 0 0-3 3v12a3 3 0 0 0 3 3 3 3 0 0 0 3-3 3 3 0 0 0-3-3H6a3 3 0 0 0-3 3 3 3 0 0 0 3 3 3 3 0 0 0 3-3V6a3 3 0 0 0-3-3 3 3 0 0 0-3 3 3 3 0 0 0 3 3h12a3 3 0 0 0 3-3 3 3 0 0 0-3-3z"/></svg>
<div class="t" style="left:1535.0px;width:2000px;text-align:center;top:1320.9px;font-size:32px;color:#1c2b36;font-weight:700;">+</div>
<div class="t" style="left:1571.5px;width:2000px;text-align:center;top:1322.6px;font-size:33px;color:#1c2b36;font-weight:400;font-family:Liberation Mono,monospace">C</div>
<div class="t" style="left:1948.8px;top:1376.5px;font-size:30.5px;color:#5f6b77;font-weight:400;letter-spacing:0.55px">IP type: public</div>
<div class="r" style="left:1909.7px;top:1436.2px;width:725.6px;height:109.0px;background:#e8f3fc"></div>
<div class="t" style="left:1949.8px;top:1455.2px;font-size:30.5px;color:#5f6b77;font-weight:400;">GEOLOCATION TAGS</div>
<div class="t" style="left:1949.8px;top:1498.8px;font-size:32px;color:#1c2b36;font-weight:400;letter-spacing:0.5px">Country, AS Name, AS Domain, AS Rout...</div>
<div class="t" style="left:2674.5px;top:1337.3px;font-size:31px;color:#5f6b77;font-weight:400;letter-spacing:0.1px">6 GEOLOCATION TAGS FOUND</div>
<div class="r" style="left:2675.7px;top:1397.0px;width:311.0px;height:133.5px;border:2px solid #e2e5ec;background:#fff"></div>
<div class="t" style="left:2696.2px;top:1425.5px;font-size:32px;color:#1c2b36;font-weight:400;">Country</div>
<div class="t" style="left:2696.2px;top:1474.9px;font-size:28.5px;color:#5f6b77;font-weight:400;">United States</div>
<div class="r" style="left:3008.3px;top:1397.0px;width:311.0px;height:133.5px;border:2px solid #e2e5ec;background:#fff"></div>
<div class="t" style="left:3028.8px;top:1425.5px;font-size:32px;color:#1c2b36;font-weight:400;">AS Name</div>
<div class="t" style="left:3028.8px;top:1474.9px;font-size:28.5px;color:#5f6b77;font-weight:400;">WideOpenWest Fin...</div>
<div class="r" style="left:2675.7px;top:1551.7px;width:311.0px;height:133.5px;border:2px solid #e2e5ec;background:#fff"></div>
<div class="t" style="left:2696.2px;top:1580.2px;font-size:32px;color:#1c2b36;font-weight:400;">AS Domain</div>
<div class="t" style="left:2696.2px;top:1629.6px;font-size:28.5px;color:#5f6b77;font-weight:400;">wowway.com</div>
<div class="r" style="left:3008.3px;top:1551.7px;width:311.0px;height:133.5px;border:2px solid #e2e5ec;background:#fff"></div>
<div class="t" style="left:3028.8px;top:1580.2px;font-size:32px;color:#1c2b36;font-weight:400;">AS Route</div>
<div class="t" style="left:3028.8px;top:1629.6px;font-size:28.5px;color:#5f6b77;font-weight:400;">24.96.120.0/24</div>
<div class="r" style="left:2675.7px;top:1707.0px;width:311.0px;height:133.5px;border:2px solid #e2e5ec;background:#fff"></div>
<div class="t" style="left:2696.2px;top:1735.5px;font-size:32px;color:#1c2b36;font-weight:400;">City</div>
<div class="t" style="left:2696.2px;top:1784.9px;font-size:28.5px;color:#5f6b77;font-weight:400;">Pinellas Park</div>
<div class="r" style="left:3008.3px;top:1707.0px;width:311.0px;height:133.5px;border:2px solid #e2e5ec;background:#fff"></div>
<div class="t" style="left:3028.8px;top:1735.5px;font-size:32px;color:#1c2b36;font-weight:400;">AS Number</div>
<div class="t" style="left:3028.8px;top:1784.9px;font-size:28.5px;color:#5f6b77;font-weight:400;">AS12083</div>
</body></html>
